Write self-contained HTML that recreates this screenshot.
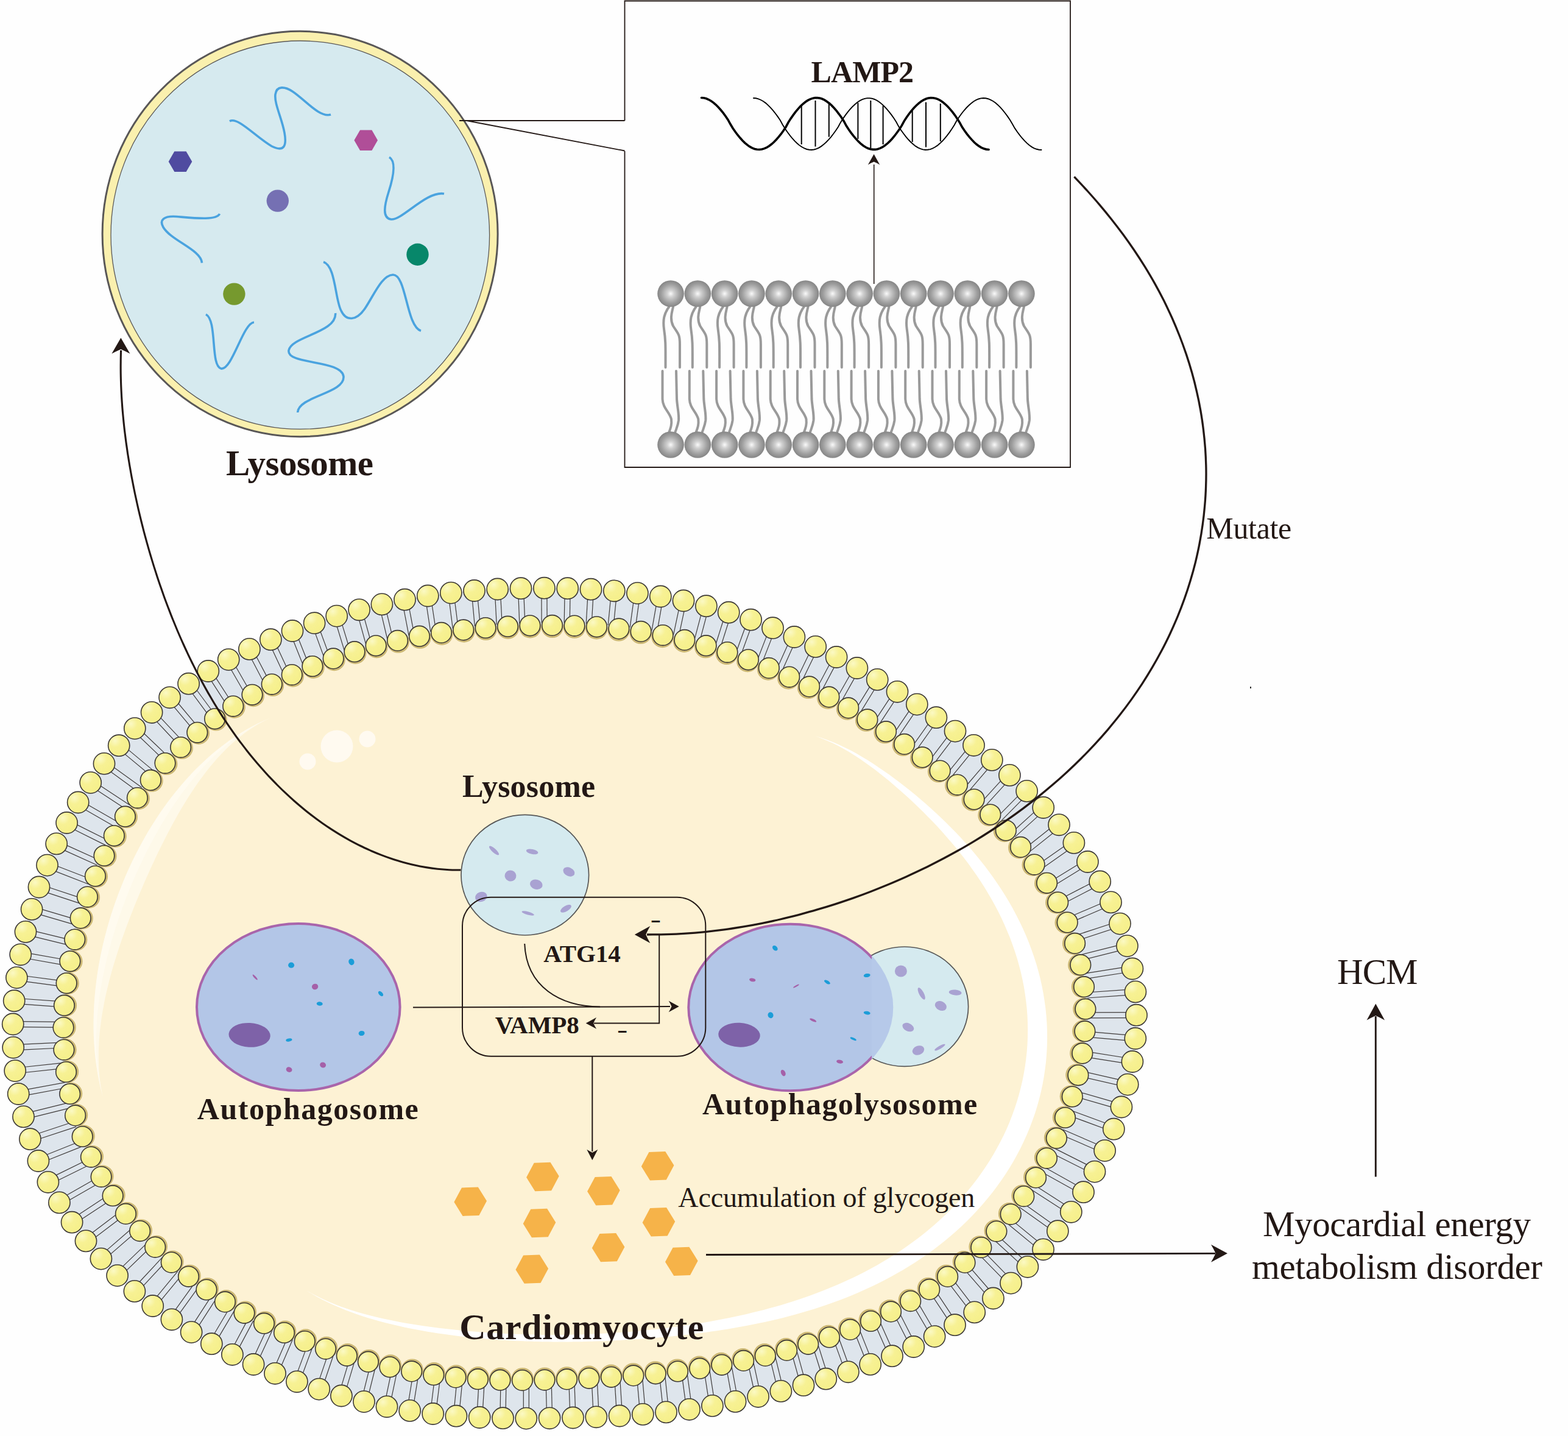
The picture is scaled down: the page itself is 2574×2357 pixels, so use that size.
<!DOCTYPE html>
<html lang="en"><head><meta charset="utf-8"><title>LAMP2 mutation and HCM</title>
<style>html,body{margin:0;padding:0;background:#fefefe}body{width:2574px;height:2357px;overflow:hidden}svg{display:block}</style></head>
<body>
<svg width="2574" height="2357" viewBox="0 0 2574 2357" font-family="'Liberation Serif', serif" fill="#231815">
<defs>
<radialGradient id="gs" cx="50%" cy="50%" r="50%">
<stop offset="0" stop-color="#fafafa"/><stop offset="0.25" stop-color="#d2d2d2"/><stop offset="0.7" stop-color="#a0a0a0"/><stop offset="1" stop-color="#858585"/>
</radialGradient>
<radialGradient id="gb" cx="32%" cy="28%" r="60%">
<stop offset="0" stop-color="#fbf9c4"/><stop offset="0.5" stop-color="#f7f194"/><stop offset="1" stop-color="#f6f08d"/>
</radialGradient>
<linearGradient id="lc" x1="0" y1="0" x2="1" y2="0">
<stop offset="0" stop-color="#fff" stop-opacity="0.95"/><stop offset="1" stop-color="#fff" stop-opacity="0.35"/>
</linearGradient>
<clipPath id="cl1"><path d="M1431,1400 H1700 V1900 H1431 Z"/></clipPath>
<clipPath id="cl2"><path d="M1000,1400 H1431 V1900 H1000 Z"/></clipPath>
</defs>
<rect width="2574" height="2357" fill="#fefefe"/>
<g id="cell">
<path d="M1865.3,1650.0L1865.5,1658.1L1865.5,1666.2L1865.4,1674.4L1865.2,1682.5L1864.8,1690.6L1864.3,1698.7L1863.6,1706.8L1862.8,1714.9L1861.8,1722.9L1860.7,1731.0L1859.5,1739.0L1858.1,1747.0L1856.7,1755.0L1855.1,1763.0L1853.3,1770.9L1851.5,1778.8L1849.5,1786.7L1847.5,1794.5L1845.3,1802.3L1843.0,1810.1L1840.6,1817.8L1838.1,1825.5L1835.5,1833.2L1832.9,1840.8L1830.1,1848.4L1827.2,1856.0L1824.2,1863.5L1821.2,1871.0L1818.1,1878.4L1814.8,1885.8L1811.5,1893.1L1808.2,1900.4L1804.7,1907.6L1801.2,1914.8L1797.6,1922.0L1793.9,1929.1L1790.1,1936.1L1786.3,1943.1L1782.4,1950.1L1778.4,1957.0L1774.4,1963.8L1770.2,1970.6L1766.0,1977.4L1761.8,1984.0L1757.4,1990.7L1753.0,1997.2L1748.6,2003.7L1744.0,2010.2L1739.4,2016.6L1734.7,2022.9L1729.9,2029.2L1725.1,2035.4L1720.2,2041.5L1715.2,2047.5L1710.2,2053.5L1705.1,2059.5L1699.9,2065.3L1694.6,2071.1L1689.3,2076.8L1683.9,2082.4L1678.5,2087.9L1672.9,2093.4L1667.4,2098.8L1661.7,2104.1L1656.0,2109.3L1650.2,2114.4L1644.3,2119.5L1638.4,2124.5L1632.4,2129.3L1626.4,2134.1L1620.3,2138.8L1614.2,2143.5L1608.0,2148.0L1601.7,2152.4L1595.5,2156.8L1589.1,2161.0L1582.7,2165.2L1576.3,2169.3L1569.8,2173.3L1563.3,2177.2L1556.8,2181.1L1550.2,2184.8L1543.6,2188.5L1537.0,2192.0L1530.3,2195.5L1523.7,2198.9L1517.0,2202.3L1510.3,2205.5L1503.5,2208.7L1496.8,2211.8L1490.1,2214.8L1483.3,2217.8L1476.6,2220.7L1469.8,2223.5L1463.0,2226.3L1456.3,2229.0L1449.5,2231.6L1442.8,2234.2L1436.1,2236.7L1429.3,2239.1L1422.6,2241.5L1415.9,2243.9L1409.2,2246.2L1402.6,2248.4L1395.9,2250.6L1389.2,2252.8L1382.6,2254.9L1376.0,2257.0L1369.4,2259.0L1362.9,2261.0L1356.3,2263.0L1349.8,2264.9L1343.3,2266.8L1336.8,2268.7L1330.3,2270.5L1323.9,2272.3L1317.4,2274.1L1311.0,2275.8L1304.6,2277.5L1298.3,2279.2L1291.9,2280.8L1285.6,2282.5L1279.3,2284.0L1273.0,2285.6L1266.7,2287.1L1260.4,2288.6L1254.2,2290.1L1247.9,2291.6L1241.7,2293.0L1235.5,2294.4L1229.3,2295.7L1223.1,2297.1L1216.9,2298.4L1210.8,2299.6L1204.6,2300.9L1198.5,2302.1L1192.3,2303.3L1186.2,2304.4L1180.1,2305.5L1174.0,2306.6L1167.9,2307.7L1161.8,2308.7L1155.7,2309.7L1149.6,2310.6L1143.6,2311.5L1137.5,2312.4L1131.5,2313.3L1125.4,2314.1L1119.4,2314.9L1113.4,2315.6L1107.3,2316.4L1101.3,2317.1L1095.3,2317.7L1089.3,2318.4L1083.3,2319.0L1077.3,2319.6L1071.3,2320.1L1065.4,2320.6L1059.4,2321.1L1053.4,2321.6L1047.5,2322.0L1041.5,2322.5L1035.6,2322.9L1029.6,2323.3L1023.7,2323.6L1017.8,2324.0L1011.8,2324.3L1005.9,2324.6L1000.0,2324.9L994.1,2325.1L988.2,2325.4L982.2,2325.6L976.3,2325.9L970.4,2326.1L964.5,2326.3L958.6,2326.5L952.7,2326.7L946.8,2326.8L940.9,2327.0L935.0,2327.1L929.1,2327.3L923.2,2327.4L917.3,2327.5L911.3,2327.6L905.4,2327.7L899.5,2327.8L893.5,2327.9L887.6,2327.9L881.6,2328.0L875.7,2328.0L869.7,2328.0L863.7,2328.1L857.7,2328.0L851.7,2328.0L845.7,2328.0L839.7,2327.9L833.7,2327.9L827.7,2327.8L821.6,2327.6L815.5,2327.5L809.5,2327.3L803.4,2327.1L797.3,2326.9L791.2,2326.7L785.0,2326.4L778.9,2326.1L772.8,2325.8L766.6,2325.4L760.4,2325.0L754.2,2324.6L748.0,2324.1L741.8,2323.6L735.6,2323.1L729.4,2322.5L723.2,2321.9L716.9,2321.2L710.6,2320.5L704.4,2319.8L698.1,2319.0L691.8,2318.2L685.5,2317.3L679.2,2316.4L672.9,2315.4L666.6,2314.4L660.2,2313.4L653.9,2312.3L647.5,2311.1L641.2,2310.0L634.8,2308.7L628.4,2307.4L622.0,2306.1L615.7,2304.7L609.3,2303.3L602.9,2301.9L596.5,2300.3L590.0,2298.8L583.6,2297.2L577.2,2295.5L570.7,2293.8L564.3,2292.1L557.8,2290.3L551.4,2288.5L544.9,2286.6L538.4,2284.6L532.0,2282.7L525.5,2280.6L519.0,2278.6L512.5,2276.4L506.0,2274.3L499.4,2272.0L492.9,2269.8L486.4,2267.5L479.8,2265.1L473.3,2262.7L466.8,2260.2L460.2,2257.7L453.6,2255.1L447.1,2252.5L440.5,2249.9L433.9,2247.1L427.4,2244.4L420.8,2241.5L414.2,2238.6L407.7,2235.7L401.1,2232.7L394.5,2229.6L387.9,2226.5L381.4,2223.3L374.8,2220.0L368.3,2216.7L361.7,2213.4L355.2,2209.9L348.7,2206.4L342.2,2202.8L335.7,2199.2L329.2,2195.5L322.7,2191.7L316.3,2187.9L309.8,2183.9L303.4,2180.0L297.0,2175.9L290.7,2171.8L284.4,2167.5L278.1,2163.3L271.8,2158.9L265.6,2154.5L259.4,2149.9L253.2,2145.3L247.1,2140.7L241.0,2135.9L235.0,2131.1L229.0,2126.2L223.1,2121.2L217.2,2116.2L211.3,2111.0L205.6,2105.8L199.8,2100.5L194.2,2095.1L188.6,2089.7L183.0,2084.2L177.6,2078.5L172.1,2072.9L166.8,2067.1L161.5,2061.3L156.3,2055.4L151.2,2049.4L146.2,2043.3L141.2,2037.2L136.3,2031.0L131.5,2024.7L126.8,2018.3L122.1,2011.9L117.6,2005.4L113.1,1998.9L108.7,1992.3L104.5,1985.6L100.3,1978.8L96.2,1972.0L92.2,1965.1L88.3,1958.2L84.5,1951.2L80.8,1944.1L77.2,1937.0L73.7,1929.8L70.3,1922.6L67.1,1915.4L63.9,1908.0L60.8,1900.7L57.9,1893.2L55.1,1885.8L52.3,1878.3L49.7,1870.7L47.2,1863.1L44.8,1855.5L42.6,1847.9L40.4,1840.2L38.3,1832.4L36.4,1824.7L34.6,1816.9L32.9,1809.1L31.3,1801.2L29.9,1793.4L28.5,1785.5L27.3,1777.6L26.1,1769.7L25.1,1761.7L24.2,1753.8L23.5,1745.8L22.8,1737.8L22.2,1729.9L21.8,1721.9L21.5,1713.9L21.2,1705.9L21.1,1697.9L21.1,1689.9L21.2,1681.9L21.4,1673.9L21.7,1665.9L22.1,1658.0L22.6,1650.0L23.2,1642.0L23.9,1634.1L24.8,1626.2L25.6,1618.2L26.6,1610.3L27.7,1602.5L28.9,1594.6L30.1,1586.7L31.5,1578.9L32.9,1571.1L34.4,1563.3L36.0,1555.5L37.7,1547.8L39.5,1540.0L41.3,1532.3L43.2,1524.7L45.2,1517.0L47.3,1509.4L49.4,1501.8L51.6,1494.2L53.9,1486.7L56.2,1479.2L58.6,1471.7L61.1,1464.3L63.7,1456.8L66.3,1449.4L69.0,1442.1L71.8,1434.8L74.6,1427.5L77.5,1420.2L80.4,1413.0L83.4,1405.8L86.5,1398.7L89.7,1391.6L92.9,1384.5L96.2,1377.5L99.5,1370.5L103.0,1363.5L106.5,1356.6L110.0,1349.7L113.6,1342.9L117.3,1336.1L121.1,1329.4L124.9,1322.7L128.8,1316.1L132.8,1309.5L136.8,1302.9L140.9,1296.4L145.1,1290.0L149.3,1283.6L153.6,1277.3L158.0,1271.0L162.5,1264.8L167.0,1258.7L171.6,1252.6L176.3,1246.6L181.0,1240.6L185.8,1234.7L190.7,1228.9L195.7,1223.2L200.7,1217.5L205.8,1211.8L210.9,1206.3L216.2,1200.8L221.4,1195.4L226.8,1190.1L232.2,1184.8L237.7,1179.6L243.2,1174.5L248.8,1169.5L254.5,1164.6L260.2,1159.7L265.9,1154.9L271.7,1150.2L277.6,1145.6L283.5,1141.0L289.5,1136.5L295.5,1132.1L301.5,1127.8L307.6,1123.5L313.7,1119.4L319.9,1115.3L326.1,1111.3L332.3,1107.3L338.6,1103.5L344.8,1099.7L351.2,1096.0L357.5,1092.3L363.9,1088.7L370.2,1085.2L376.6,1081.8L383.0,1078.4L389.5,1075.1L395.9,1071.9L402.4,1068.7L408.8,1065.6L415.3,1062.6L421.8,1059.6L428.3,1056.7L434.8,1053.9L441.3,1051.1L447.8,1048.3L454.3,1045.6L460.8,1043.0L467.3,1040.4L473.8,1037.9L480.3,1035.4L486.7,1033.0L493.2,1030.7L499.7,1028.3L506.2,1026.1L512.7,1023.9L519.1,1021.7L525.6,1019.6L532.0,1017.5L538.5,1015.4L544.9,1013.5L551.4,1011.5L557.8,1009.6L564.2,1007.8L570.6,1006.0L577.0,1004.2L583.4,1002.5L589.8,1000.8L596.2,999.2L602.6,997.6L608.9,996.0L615.3,994.5L621.6,993.0L628.0,991.6L634.3,990.2L640.7,988.9L647.0,987.6L653.3,986.4L659.6,985.1L665.9,984.0L672.2,982.8L678.5,981.7L684.8,980.7L691.0,979.7L697.3,978.7L703.5,977.8L709.8,976.9L716.0,976.0L722.2,975.2L728.5,974.4L734.7,973.7L740.9,973.0L747.1,972.3L753.2,971.7L759.4,971.1L765.6,970.5L771.7,970.0L777.9,969.5L784.0,969.0L790.2,968.6L796.3,968.2L802.4,967.8L808.5,967.4L814.6,967.1L820.7,966.8L826.8,966.6L832.8,966.3L838.9,966.1L844.9,965.9L851.0,965.7L857.0,965.6L863.1,965.5L869.1,965.4L875.1,965.3L881.1,965.3L887.1,965.2L893.1,965.2L899.1,965.2L905.1,965.3L911.1,965.3L917.1,965.4L923.1,965.5L929.0,965.7L935.0,965.8L941.0,966.0L946.9,966.2L952.9,966.4L958.9,966.7L964.8,966.9L970.8,967.2L976.7,967.6L982.7,967.9L988.7,968.3L994.6,968.7L1000.6,969.1L1006.5,969.6L1012.5,970.1L1018.4,970.6L1024.4,971.2L1030.3,971.8L1036.3,972.5L1042.2,973.1L1048.2,973.8L1054.1,974.6L1060.0,975.4L1066.0,976.2L1071.9,977.1L1077.8,978.0L1083.8,978.9L1089.7,979.9L1095.6,980.9L1101.6,982.0L1107.5,983.1L1113.4,984.2L1119.3,985.4L1125.2,986.7L1131.1,988.0L1137.0,989.3L1142.9,990.7L1148.8,992.1L1154.7,993.5L1160.5,995.0L1166.4,996.6L1172.2,998.2L1178.1,999.8L1183.9,1001.5L1189.8,1003.2L1195.6,1005.0L1201.4,1006.8L1207.2,1008.6L1213.1,1010.5L1218.9,1012.4L1224.7,1014.4L1230.4,1016.4L1236.2,1018.5L1242.0,1020.6L1247.8,1022.7L1253.5,1024.9L1259.3,1027.1L1265.0,1029.3L1270.8,1031.6L1276.5,1033.9L1282.2,1036.2L1288.0,1038.6L1293.7,1041.1L1299.4,1043.5L1305.1,1046.0L1310.8,1048.5L1316.5,1051.1L1322.2,1053.7L1327.9,1056.3L1333.6,1059.0L1339.3,1061.7L1345.0,1064.4L1350.7,1067.2L1356.4,1070.0L1362.1,1072.8L1367.8,1075.7L1373.4,1078.6L1379.1,1081.6L1384.8,1084.5L1390.5,1087.5L1396.1,1090.6L1401.8,1093.7L1407.5,1096.8L1413.2,1099.9L1418.8,1103.1L1424.5,1106.3L1430.2,1109.6L1435.9,1112.9L1441.6,1116.2L1447.2,1119.6L1452.9,1123.0L1458.6,1126.4L1464.3,1129.9L1470.0,1133.4L1475.6,1137.0L1481.3,1140.5L1487.0,1144.2L1492.7,1147.8L1498.4,1151.6L1504.1,1155.3L1509.8,1159.1L1515.5,1162.9L1521.2,1166.8L1526.9,1170.7L1532.6,1174.7L1538.3,1178.6L1544.0,1182.7L1549.7,1186.8L1555.5,1190.9L1561.2,1195.1L1566.9,1199.3L1572.6,1203.5L1578.4,1207.8L1584.1,1212.2L1589.8,1216.6L1595.5,1221.0L1601.3,1225.5L1607.0,1230.1L1612.7,1234.7L1618.5,1239.3L1624.2,1244.0L1629.9,1248.8L1635.7,1253.6L1641.4,1258.5L1647.1,1263.4L1652.8,1268.4L1658.5,1273.4L1664.1,1278.5L1669.8,1283.6L1675.4,1288.9L1681.1,1294.1L1686.7,1299.5L1692.3,1304.9L1697.8,1310.4L1703.4,1315.9L1708.9,1321.5L1714.3,1327.2L1719.7,1332.9L1725.1,1338.8L1730.5,1344.6L1735.8,1350.6L1741.0,1356.6L1746.2,1362.7L1751.3,1368.9L1756.4,1375.2L1761.4,1381.5L1766.3,1387.9L1771.2,1394.4L1775.9,1400.9L1780.6,1407.5L1785.2,1414.2L1789.7,1421.0L1794.1,1427.8L1798.4,1434.7L1802.6,1441.7L1806.7,1448.7L1810.7,1455.9L1814.6,1463.0L1818.3,1470.3L1822.0,1477.6L1825.5,1485.0L1828.8,1492.4L1832.1,1499.9L1835.2,1507.4L1838.1,1515.0L1840.9,1522.7L1843.6,1530.4L1846.1,1538.1L1848.5,1545.9L1850.7,1553.8L1852.8,1561.6L1854.7,1569.5L1856.5,1577.5L1858.1,1585.5L1859.5,1593.5L1860.8,1601.5L1862.0,1609.5L1862.9,1617.6L1863.8,1625.7L1864.4,1633.8L1864.9,1641.9Z" fill="#dee5ec"/>
<path d="M1781.7,1650.0L1781.9,1657.4L1781.9,1664.8L1781.9,1672.2L1781.6,1679.6L1781.3,1686.9L1780.8,1694.3L1780.2,1701.7L1779.4,1709.0L1778.6,1716.4L1777.6,1723.7L1776.5,1731.0L1775.3,1738.3L1774.0,1745.6L1772.5,1752.8L1771.0,1760.1L1769.3,1767.3L1767.5,1774.4L1765.7,1781.6L1763.7,1788.7L1761.6,1795.8L1759.5,1802.8L1757.2,1809.8L1754.9,1816.8L1752.4,1823.8L1749.9,1830.7L1747.3,1837.5L1744.6,1844.4L1741.8,1851.2L1739.0,1857.9L1736.1,1864.6L1733.0,1871.3L1729.9,1877.9L1726.8,1884.5L1723.5,1891.1L1720.2,1897.6L1716.8,1904.0L1713.4,1910.4L1709.9,1916.8L1706.3,1923.1L1702.6,1929.4L1698.9,1935.6L1695.1,1941.8L1691.2,1947.9L1687.3,1953.9L1683.3,1959.9L1679.2,1965.9L1675.1,1971.8L1670.9,1977.6L1666.6,1983.4L1662.3,1989.1L1657.9,1994.8L1653.4,2000.4L1648.9,2005.9L1644.3,2011.4L1639.7,2016.8L1635.0,2022.2L1630.2,2027.5L1625.4,2032.7L1620.5,2037.8L1615.5,2042.9L1610.5,2047.9L1605.4,2052.8L1600.3,2057.7L1595.1,2062.5L1589.9,2067.2L1584.6,2071.9L1579.3,2076.4L1573.9,2080.9L1568.4,2085.4L1563.0,2089.7L1557.4,2094.0L1551.9,2098.2L1546.2,2102.3L1540.6,2106.3L1534.9,2110.3L1529.1,2114.2L1523.4,2118.0L1517.6,2121.7L1511.7,2125.4L1505.8,2129.0L1499.9,2132.5L1494.0,2136.0L1488.1,2139.3L1482.1,2142.6L1476.1,2145.8L1470.1,2149.0L1464.1,2152.1L1458.1,2155.1L1452.0,2158.1L1446.0,2161.0L1439.9,2163.8L1433.8,2166.5L1427.7,2169.2L1421.7,2171.9L1415.6,2174.4L1409.5,2177.0L1403.4,2179.4L1397.3,2181.8L1391.2,2184.2L1385.2,2186.5L1379.1,2188.7L1373.0,2190.9L1367.0,2193.1L1360.9,2195.2L1354.9,2197.2L1348.9,2199.2L1342.9,2201.2L1336.9,2203.1L1330.9,2205.0L1324.9,2206.8L1318.9,2208.6L1313.0,2210.4L1307.1,2212.1L1301.1,2213.8L1295.2,2215.4L1289.3,2217.0L1283.4,2218.6L1277.6,2220.1L1271.7,2221.6L1265.9,2223.1L1260.1,2224.5L1254.2,2225.9L1248.4,2227.3L1242.7,2228.6L1236.9,2229.9L1231.1,2231.2L1225.4,2232.4L1219.7,2233.6L1213.9,2234.8L1208.2,2235.9L1202.5,2237.0L1196.8,2238.1L1191.2,2239.2L1185.5,2240.2L1179.9,2241.2L1174.2,2242.1L1168.6,2243.1L1163.0,2244.0L1157.4,2244.9L1151.8,2245.7L1146.2,2246.5L1140.7,2247.3L1135.1,2248.1L1129.6,2248.8L1124.0,2249.5L1118.5,2250.2L1113.0,2250.9L1107.5,2251.5L1102.0,2252.2L1096.5,2252.8L1091.0,2253.3L1085.6,2253.9L1080.1,2254.4L1074.7,2255.0L1069.2,2255.5L1063.8,2255.9L1058.4,2256.4L1053.0,2256.8L1047.6,2257.3L1042.2,2257.7L1036.8,2258.1L1031.4,2258.5L1026.0,2258.9L1020.6,2259.2L1015.3,2259.6L1009.9,2259.9L1004.5,2260.3L999.2,2260.6L993.8,2260.9L988.5,2261.2L983.1,2261.5L977.8,2261.8L972.4,2262.0L967.1,2262.3L961.7,2262.6L956.4,2262.8L951.1,2263.1L945.7,2263.3L940.4,2263.5L935.0,2263.8L929.6,2264.0L924.3,2264.2L918.9,2264.3L913.5,2264.5L908.2,2264.7L902.8,2264.8L897.4,2265.0L892.0,2265.1L886.6,2265.2L881.2,2265.3L875.7,2265.4L870.3,2265.5L864.9,2265.5L859.4,2265.6L854.0,2265.6L848.5,2265.6L843.0,2265.5L837.5,2265.5L832.0,2265.4L826.5,2265.3L821.0,2265.2L815.4,2265.0L809.9,2264.9L804.3,2264.7L798.8,2264.4L793.2,2264.2L787.6,2263.9L782.0,2263.6L776.4,2263.2L770.8,2262.8L765.2,2262.4L759.5,2261.9L753.9,2261.4L748.2,2260.9L742.6,2260.3L736.9,2259.7L731.2,2259.1L725.5,2258.4L719.8,2257.7L714.1,2257.0L708.4,2256.2L702.6,2255.4L696.9,2254.5L691.1,2253.6L685.4,2252.6L679.6,2251.6L673.8,2250.6L668.1,2249.5L662.3,2248.4L656.5,2247.3L650.7,2246.1L644.9,2244.9L639.0,2243.6L633.2,2242.3L627.4,2240.9L621.5,2239.5L615.7,2238.1L609.8,2236.6L604.0,2235.1L598.1,2233.6L592.2,2231.9L586.3,2230.3L580.4,2228.6L574.5,2226.9L568.6,2225.1L562.7,2223.3L556.8,2221.4L550.8,2219.5L544.9,2217.6L539.0,2215.6L533.0,2213.5L527.1,2211.5L521.1,2209.3L515.2,2207.2L509.2,2204.9L503.2,2202.6L497.3,2200.3L491.3,2197.9L485.3,2195.5L479.3,2193.0L473.4,2190.5L467.4,2187.9L461.4,2185.3L455.4,2182.6L449.5,2179.9L443.5,2177.1L437.5,2174.2L431.6,2171.3L425.6,2168.3L419.7,2165.3L413.8,2162.2L407.8,2159.1L401.9,2155.9L396.0,2152.6L390.1,2149.3L384.3,2145.9L378.4,2142.4L372.6,2138.9L366.8,2135.3L361.0,2131.7L355.2,2127.9L349.5,2124.2L343.7,2120.3L338.0,2116.4L332.4,2112.4L326.7,2108.4L321.1,2104.2L315.6,2100.1L310.0,2095.8L304.5,2091.5L299.1,2087.1L293.6,2082.6L288.3,2078.1L282.9,2073.5L277.6,2068.8L272.4,2064.1L267.2,2059.2L262.0,2054.4L256.9,2049.4L251.9,2044.4L246.9,2039.3L242.0,2034.1L237.1,2028.9L232.3,2023.6L227.6,2018.3L222.9,2012.8L218.3,2007.3L213.7,2001.8L209.3,1996.2L204.9,1990.5L200.6,1984.7L196.3,1978.9L192.1,1973.0L188.1,1967.1L184.0,1961.1L180.1,1955.0L176.3,1948.9L172.5,1942.7L168.9,1936.4L165.3,1930.2L161.8,1923.8L158.4,1917.4L155.1,1910.9L151.9,1904.4L148.8,1897.9L145.8,1891.3L142.9,1884.6L140.1,1877.9L137.4,1871.2L134.8,1864.4L132.3,1857.6L129.9,1850.7L127.6,1843.8L125.4,1836.9L123.3,1829.9L121.3,1822.9L119.5,1815.9L117.7,1808.9L116.1,1801.8L114.5,1794.7L113.1,1787.5L111.7,1780.4L110.5,1773.2L109.4,1766.0L108.4,1758.8L107.5,1751.6L106.7,1744.4L106.0,1737.1L105.4,1729.9L104.9,1722.6L104.5,1715.4L104.2,1708.1L104.0,1700.8L104.0,1693.6L104.0,1686.3L104.1,1679.0L104.3,1671.8L104.6,1664.5L104.9,1657.2L105.4,1650.0L106.0,1642.8L106.6,1635.5L107.4,1628.3L108.2,1621.1L109.1,1613.9L110.1,1606.8L111.2,1599.6L112.3,1592.5L113.5,1585.3L114.8,1578.2L116.2,1571.2L117.7,1564.1L119.2,1557.0L120.8,1550.0L122.4,1543.0L124.2,1536.0L126.0,1529.1L127.8,1522.2L129.7,1515.2L131.7,1508.4L133.8,1501.5L135.9,1494.7L138.1,1487.9L140.3,1481.1L142.6,1474.3L145.0,1467.6L147.4,1460.9L149.9,1454.3L152.5,1447.6L155.1,1441.0L157.8,1434.5L160.5,1427.9L163.3,1421.4L166.2,1414.9L169.1,1408.5L172.1,1402.1L175.1,1395.7L178.2,1389.4L181.4,1383.1L184.6,1376.9L187.9,1370.7L191.3,1364.5L194.7,1358.4L198.2,1352.3L201.7,1346.3L205.3,1340.3L209.0,1334.3L212.8,1328.4L216.6,1322.6L220.5,1316.8L224.4,1311.1L228.4,1305.4L232.5,1299.7L236.6,1294.1L240.8,1288.6L245.1,1283.2L249.4,1277.7L253.8,1272.4L258.2,1267.1L262.8,1261.9L267.3,1256.7L272.0,1251.6L276.7,1246.6L281.4,1241.6L286.2,1236.7L291.1,1231.9L296.0,1227.1L301.0,1222.4L306.1,1217.7L311.1,1213.2L316.3,1208.7L321.5,1204.2L326.7,1199.9L332.0,1195.6L337.3,1191.4L342.7,1187.2L348.1,1183.1L353.5,1179.1L359.0,1175.2L364.5,1171.3L370.1,1167.5L375.6,1163.8L381.2,1160.1L386.9,1156.5L392.6,1152.9L398.2,1149.5L404.0,1146.1L409.7,1142.7L415.4,1139.4L421.2,1136.2L427.0,1133.1L432.8,1130.0L438.6,1126.9L444.5,1124.0L450.3,1121.1L456.2,1118.2L462.0,1115.4L467.9,1112.7L473.8,1110.0L479.7,1107.4L485.6,1104.8L491.5,1102.3L497.3,1099.8L503.2,1097.4L509.1,1095.0L515.0,1092.7L520.9,1090.4L526.8,1088.2L532.7,1086.0L538.6,1083.9L544.5,1081.8L550.4,1079.8L556.3,1077.8L562.2,1075.9L568.0,1074.0L573.9,1072.1L579.8,1070.3L585.6,1068.6L591.5,1066.9L597.4,1065.2L603.2,1063.6L609.0,1062.0L614.9,1060.4L620.7,1058.9L626.5,1057.5L632.4,1056.0L638.2,1054.6L644.0,1053.3L649.8,1052.0L655.6,1050.7L661.3,1049.5L667.1,1048.3L672.9,1047.2L678.6,1046.0L684.4,1045.0L690.1,1043.9L695.9,1042.9L701.6,1042.0L707.3,1041.0L713.0,1040.1L718.7,1039.3L724.4,1038.4L730.1,1037.6L735.8,1036.9L741.5,1036.2L747.1,1035.5L752.8,1034.8L758.4,1034.1L764.0,1033.5L769.7,1033.0L775.3,1032.4L780.9,1031.9L786.5,1031.4L792.1,1030.9L797.7,1030.5L803.2,1030.0L808.8,1029.7L814.3,1029.3L819.9,1028.9L825.4,1028.6L831.0,1028.3L836.5,1028.0L842.0,1027.8L847.5,1027.6L853.0,1027.3L858.5,1027.2L864.0,1027.0L869.5,1026.8L875.0,1026.7L880.5,1026.6L885.9,1026.5L891.4,1026.5L896.9,1026.4L902.3,1026.4L907.8,1026.4L913.2,1026.5L918.7,1026.5L924.1,1026.6L929.6,1026.7L935.0,1026.8L940.4,1027.0L945.9,1027.2L951.3,1027.4L956.7,1027.6L962.2,1027.8L967.6,1028.1L973.0,1028.4L978.4,1028.7L983.9,1029.1L989.3,1029.5L994.7,1029.9L1000.1,1030.4L1005.5,1030.9L1011.0,1031.4L1016.4,1031.9L1021.8,1032.5L1027.2,1033.1L1032.6,1033.8L1038.0,1034.5L1043.4,1035.2L1048.8,1036.0L1054.2,1036.8L1059.6,1037.6L1065.0,1038.4L1070.4,1039.3L1075.8,1040.3L1081.1,1041.3L1086.5,1042.3L1091.9,1043.3L1097.3,1044.4L1102.6,1045.5L1108.0,1046.7L1113.3,1047.9L1118.7,1049.1L1124.0,1050.4L1129.4,1051.7L1134.7,1053.1L1140.1,1054.5L1145.4,1055.9L1150.7,1057.3L1156.0,1058.8L1161.3,1060.4L1166.6,1061.9L1171.9,1063.5L1177.2,1065.2L1182.5,1066.8L1187.8,1068.6L1193.1,1070.3L1198.4,1072.1L1203.7,1073.9L1208.9,1075.7L1214.2,1077.6L1219.4,1079.5L1224.7,1081.4L1229.9,1083.4L1235.2,1085.4L1240.4,1087.5L1245.7,1089.5L1250.9,1091.7L1256.1,1093.8L1261.4,1096.0L1266.6,1098.2L1271.8,1100.4L1277.0,1102.7L1282.2,1105.0L1287.4,1107.3L1292.6,1109.7L1297.8,1112.1L1303.0,1114.5L1308.2,1117.0L1313.4,1119.5L1318.6,1122.0L1323.8,1124.6L1329.0,1127.2L1334.2,1129.8L1339.4,1132.4L1344.5,1135.1L1349.7,1137.9L1354.9,1140.6L1360.1,1143.4L1365.2,1146.3L1370.4,1149.1L1375.6,1152.0L1380.7,1155.0L1385.9,1157.9L1391.1,1160.9L1396.2,1164.0L1401.4,1167.0L1406.5,1170.2L1411.7,1173.3L1416.9,1176.5L1422.0,1179.7L1427.2,1182.9L1432.4,1186.2L1437.5,1189.5L1442.7,1192.9L1447.8,1196.3L1453.0,1199.7L1458.2,1203.2L1463.4,1206.7L1468.5,1210.2L1473.7,1213.8L1478.9,1217.4L1484.1,1221.0L1489.3,1224.7L1494.5,1228.4L1499.7,1232.2L1504.9,1236.0L1510.1,1239.8L1515.3,1243.7L1520.5,1247.6L1525.7,1251.6L1530.9,1255.6L1536.1,1259.6L1541.4,1263.7L1546.6,1267.8L1551.8,1272.0L1557.1,1276.2L1562.3,1280.5L1567.5,1284.8L1572.7,1289.2L1578.0,1293.6L1583.2,1298.1L1588.4,1302.6L1593.6,1307.2L1598.8,1311.8L1604.0,1316.5L1609.1,1321.2L1614.3,1326.0L1619.4,1330.9L1624.5,1335.8L1629.6,1340.7L1634.7,1345.8L1639.7,1350.9L1644.7,1356.0L1649.7,1361.3L1654.6,1366.5L1659.5,1371.9L1664.3,1377.3L1669.1,1382.8L1673.9,1388.4L1678.5,1394.0L1683.2,1399.7L1687.7,1405.4L1692.2,1411.2L1696.6,1417.1L1701.0,1423.1L1705.3,1429.1L1709.4,1435.2L1713.5,1441.4L1717.5,1447.6L1721.5,1453.9L1725.3,1460.3L1729.0,1466.7L1732.6,1473.2L1736.1,1479.7L1739.5,1486.3L1742.8,1493.0L1745.9,1499.7L1749.0,1506.5L1751.9,1513.3L1754.7,1520.2L1757.4,1527.1L1759.9,1534.1L1762.3,1541.1L1764.6,1548.1L1766.7,1555.2L1768.7,1562.4L1770.6,1569.5L1772.3,1576.7L1773.8,1584.0L1775.3,1591.2L1776.6,1598.5L1777.7,1605.8L1778.8,1613.2L1779.6,1620.5L1780.4,1627.9L1781.0,1635.2L1781.4,1642.6Z" fill="#fdf2d4"/>
<path d="M447.0,1177.0L438.6,1180.5L430.3,1184.2L422.1,1188.1L414.1,1192.3L406.2,1196.6L398.4,1201.2L390.7,1206.0L383.2,1210.9L375.8,1216.1L368.5,1221.4L361.3,1226.9L354.3,1232.5L347.4,1238.3L340.6,1244.3L333.9,1250.4L327.3,1256.7L320.9,1263.1L314.6,1269.6L308.4,1276.2L302.4,1283.0L296.4,1289.9L290.6,1296.9L284.9,1304.1L279.3,1311.3L273.8,1318.6L268.5,1326.1L263.2,1333.6L258.1,1341.2L253.1,1348.9L248.2,1356.7L243.4,1364.6L238.8,1372.6L234.2,1380.7L229.8,1388.8L225.5,1397.0L221.3,1405.3L217.2,1413.6L213.2,1422.1L209.3,1430.5L205.6,1439.1L202.0,1447.7L198.5,1456.4L195.1,1465.1L191.8,1473.9L188.6,1482.8L185.6,1491.7L182.7,1500.6L179.9,1509.6L177.2,1518.7L174.7,1527.8L172.3,1536.9L170.0,1546.1L167.9,1555.3L165.9,1564.6L164.0,1573.9L162.3,1583.3L160.7,1592.6L159.3,1602.1L158.0,1611.5L156.9,1621.0L155.9,1630.4L155.1,1639.9L154.5,1649.5L154.0,1659.0L153.7,1668.5L153.5,1678.1L153.5,1687.6L153.7,1697.2L154.1,1706.8L154.7,1716.3L155.5,1725.8L156.4,1735.3L157.6,1744.8L159.0,1754.3L160.5,1763.7L162.3,1773.1L164.3,1782.5L166.6,1791.8L169.0,1801.0 L169.0,1801.0L167.1,1791.7L165.4,1782.3L164.1,1772.8L163.1,1763.3L162.4,1753.8L162.0,1744.3L161.8,1734.7L161.9,1725.2L162.3,1715.7L162.8,1706.1L163.6,1696.6L164.6,1687.1L165.8,1677.7L167.1,1668.2L168.7,1658.8L170.4,1649.5L172.2,1640.2L174.2,1630.9L176.4,1621.7L178.6,1612.5L181.0,1603.4L183.5,1594.3L186.1,1585.3L188.8,1576.4L191.6,1567.5L194.5,1558.6L197.4,1549.8L200.4,1541.1L203.5,1532.4L206.6,1523.8L209.8,1515.2L213.1,1506.6L216.4,1498.2L219.7,1489.7L223.1,1481.3L226.6,1473.0L230.0,1464.7L233.6,1456.4L237.1,1448.2L240.7,1440.0L244.4,1431.9L248.0,1423.8L251.8,1415.7L255.5,1407.7L259.3,1399.7L263.2,1391.8L267.1,1383.9L271.1,1376.0L275.1,1368.2L279.2,1360.5L283.3,1352.7L287.6,1345.1L291.8,1337.4L296.2,1329.8L300.7,1322.3L305.2,1314.9L309.8,1307.5L314.6,1300.2L319.4,1292.9L324.3,1285.7L329.4,1278.7L334.6,1271.7L339.9,1264.8L345.3,1258.0L350.9,1251.4L356.6,1244.8L362.5,1238.4L368.6,1232.2L374.8,1226.1L381.1,1220.2L387.7,1214.5L394.4,1209.0L401.3,1203.6L408.4,1198.5L415.7,1193.7L423.2,1189.1L431.0,1184.8L438.9,1180.7L447.0,1177.0 Z" fill="#fffdf6" fill-opacity="0.62"/>
<path d="M447.0,1177.0L438.6,1180.5L430.3,1184.2L422.1,1188.1L414.1,1192.3L406.2,1196.6L398.4,1201.2L390.7,1206.0L383.2,1210.9L375.8,1216.1L368.5,1221.4L361.3,1226.9L354.3,1232.5L347.4,1238.3L340.6,1244.3L333.9,1250.4L327.3,1256.7L320.9,1263.1L314.6,1269.6L308.4,1276.2L302.4,1283.0L296.4,1289.9L290.6,1296.9L284.9,1304.1L279.3,1311.3L273.8,1318.6L268.5,1326.1L263.2,1333.6L258.1,1341.2L253.1,1348.9L248.2,1356.7L243.4,1364.6L238.8,1372.6L234.2,1380.7L229.8,1388.8L225.5,1397.0L221.3,1405.3L217.2,1413.6L213.2,1422.1L209.3,1430.5L205.6,1439.1L202.0,1447.7L198.5,1456.4L195.1,1465.1L191.8,1473.9L188.6,1482.8L185.6,1491.7L182.7,1500.6L179.9,1509.6L177.2,1518.7L174.7,1527.8L172.3,1536.9L170.0,1546.1L167.9,1555.3L165.9,1564.6L164.0,1573.9L162.3,1583.3L160.7,1592.6L159.3,1602.1L158.0,1611.5L156.9,1621.0L155.9,1630.4L155.1,1639.9L154.5,1649.5L154.0,1659.0L153.7,1668.5L153.5,1678.1L153.5,1687.6L153.7,1697.2L154.1,1706.8L154.7,1716.3L155.5,1725.8L156.4,1735.3L157.6,1744.8L159.0,1754.3L160.5,1763.7L162.3,1773.1L164.3,1782.5L166.6,1791.8L169.0,1801.0 L169.0,1801.0L166.8,1791.7L164.8,1782.4L163.2,1773.0L161.7,1763.5L160.6,1754.1L159.6,1744.6L158.9,1735.1L158.4,1725.5L158.2,1716.0L158.1,1706.5L158.2,1696.9L158.6,1687.4L159.1,1677.9L159.8,1668.4L160.7,1658.9L161.7,1649.5L162.9,1640.0L164.2,1630.6L165.7,1621.3L167.4,1612.0L169.1,1602.7L171.1,1593.4L173.1,1584.2L175.2,1575.0L177.5,1565.9L179.9,1556.8L182.4,1547.8L185.0,1538.8L187.7,1529.9L190.5,1521.0L193.4,1512.1L196.4,1503.3L199.4,1494.6L202.6,1485.9L205.9,1477.2L209.2,1468.7L212.6,1460.1L216.1,1451.6L219.7,1443.2L223.4,1434.8L227.2,1426.5L231.0,1418.2L234.9,1410.0L238.9,1401.8L243.0,1393.7L247.2,1385.6L251.4,1377.7L255.8,1369.7L260.2,1361.9L264.7,1354.1L269.4,1346.4L274.1,1338.7L278.9,1331.1L283.8,1323.6L288.8,1316.2L293.9,1308.9L299.1,1301.6L304.5,1294.5L309.9,1287.4L315.5,1280.4L321.1,1273.6L326.9,1266.9L332.9,1260.2L338.9,1253.8L345.1,1247.4L351.4,1241.2L357.9,1235.1L364.5,1229.2L371.2,1223.4L378.1,1217.9L385.1,1212.5L392.3,1207.2L399.7,1202.2L407.1,1197.4L414.8,1192.9L422.6,1188.5L430.6,1184.4L438.7,1180.6L447.0,1177.0 Z" fill="#fffdf6" fill-opacity="0.5"/>
<path d="M1337.9,1208.1L1348.1,1211.1L1358.0,1214.5L1367.8,1218.3L1377.5,1222.4L1386.9,1226.9L1396.3,1231.6L1405.5,1236.6L1414.6,1241.9L1423.7,1247.3L1432.6,1253.0L1441.5,1258.9L1450.3,1264.9L1459.1,1271.1L1467.8,1277.5L1476.5,1284.0L1485.2,1290.7L1493.8,1297.6L1502.4,1304.6L1510.9,1311.8L1519.4,1319.1L1527.8,1326.6L1536.2,1334.3L1544.5,1342.1L1552.8,1350.1L1561.0,1358.2L1569.2,1366.6L1577.2,1375.1L1585.1,1383.8L1593.0,1392.6L1600.7,1401.7L1608.3,1410.9L1615.7,1420.3L1623.0,1429.9L1630.1,1439.7L1637.0,1449.7L1643.7,1459.8L1650.2,1470.1L1656.5,1480.6L1662.6,1491.3L1668.4,1502.2L1674.0,1513.2L1679.2,1524.3L1684.2,1535.6L1688.9,1547.1L1693.3,1558.7L1697.4,1570.4L1701.2,1582.3L1704.6,1594.2L1707.7,1606.2L1710.4,1618.4L1712.7,1630.6L1714.7,1642.9L1716.4,1655.2L1717.6,1667.6L1718.5,1680.0L1719.0,1692.5L1719.1,1704.9L1718.8,1717.4L1718.1,1729.8L1717.1,1742.2L1715.6,1754.6L1713.8,1766.9L1711.6,1779.2L1709.0,1791.4L1706.0,1803.5L1702.7,1815.5L1699.0,1827.4L1694.9,1839.1L1690.5,1850.8L1685.7,1862.3L1680.6,1873.6L1675.2,1884.8L1669.4,1895.8L1663.3,1906.7L1657.0,1917.3L1650.3,1927.8L1643.3,1938.1L1636.1,1948.1L1628.6,1958.0L1620.8,1967.6L1612.9,1977.0L1604.6,1986.2L1596.2,1995.2L1587.6,2003.9L1578.7,2012.4L1569.7,2020.7L1560.5,2028.7L1551.2,2036.5L1541.7,2044.1L1532.1,2051.4L1522.3,2058.5L1512.4,2065.3L1502.5,2071.9L1492.4,2078.3L1482.3,2084.4L1472.0,2090.3L1461.8,2096.0L1451.4,2101.5L1441.1,2106.7L1430.7,2111.8L1420.2,2116.6L1409.8,2121.2L1399.3,2125.7L1388.9,2129.9L1378.4,2134.0L1368.0,2137.8L1357.5,2141.5L1347.1,2145.1L1336.7,2148.4L1326.4,2151.6L1316.1,2154.6L1305.8,2157.5L1295.6,2160.3L1285.4,2162.9L1275.3,2165.4L1265.2,2167.7L1255.2,2170.0L1245.2,2172.1L1235.3,2174.1L1225.4,2176.0L1215.6,2177.8L1205.9,2179.6L1196.2,2181.2L1186.6,2182.7L1177.0,2184.2L1167.5,2185.6L1158.0,2186.9L1148.6,2188.1L1139.3,2189.3L1130.0,2190.4L1120.8,2191.5L1111.6,2192.4L1102.4,2193.4L1093.3,2194.3L1084.2,2195.1L1075.2,2195.9L1066.2,2196.6L1057.3,2197.3L1048.3,2197.9L1039.4,2198.5L1030.6,2199.1L1021.7,2199.6L1012.9,2200.1L1004.1,2200.5L995.3,2200.9L986.6,2201.2L977.8,2201.5L969.0,2201.8L960.3,2202.0L951.6,2202.2L942.8,2202.3L934.1,2202.4L925.4,2202.5L916.6,2202.5L907.9,2202.4L899.1,2202.3L890.3,2202.2L881.5,2202.0L872.7,2201.8L863.9,2201.5L855.1,2201.1L846.2,2200.7L837.4,2200.3L828.5,2199.8L819.5,2199.2L810.6,2198.6L801.6,2197.9L792.6,2197.1L783.5,2196.3L774.4,2195.4L765.3,2194.5L756.1,2193.4L747.0,2192.3L737.7,2191.1L728.5,2189.8L719.2,2188.5L709.8,2187.0L700.5,2185.5L691.0,2183.8L681.6,2182.1L672.1,2180.2L662.6,2178.2L653.1,2176.1L643.5,2173.8L634.0,2171.5L624.4,2168.9L614.8,2166.2L605.2,2163.4L595.6,2160.4L586.1,2157.2L576.5,2153.8L567.0,2150.2L557.6,2146.3L548.2,2142.3L539.0,2138.0L529.8,2133.5L520.8,2128.7L511.9,2123.6L503.2,2118.2 L503.2,2118.2L512.1,2123.3L521.3,2128.1L530.5,2132.6L540.0,2136.8L549.5,2140.7L559.1,2144.4L568.8,2147.8L578.5,2151.0L588.3,2154.0L598.0,2156.7L607.8,2159.3L617.6,2161.8L627.3,2164.0L637.0,2166.1L646.7,2168.1L656.4,2170.0L666.0,2171.7L675.5,2173.3L685.0,2174.8L694.5,2176.3L703.9,2177.6L713.3,2178.8L722.6,2180.0L731.8,2181.1L741.0,2182.1L750.2,2183.1L759.3,2184.0L768.3,2184.8L777.3,2185.6L786.3,2186.3L795.2,2186.9L804.1,2187.5L812.9,2188.1L821.8,2188.6L830.5,2189.0L839.3,2189.4L848.0,2189.8L856.7,2190.1L865.4,2190.4L874.0,2190.6L882.6,2190.8L891.2,2190.9L899.8,2191.0L908.4,2191.0L917.0,2191.0L925.6,2190.9L934.1,2190.8L942.7,2190.6L951.2,2190.4L959.8,2190.2L968.3,2189.8L976.9,2189.5L985.4,2189.1L994.0,2188.6L1002.6,2188.1L1011.1,2187.6L1019.7,2187.0L1028.4,2186.4L1037.0,2185.7L1045.6,2184.9L1054.3,2184.1L1063.0,2183.2L1071.7,2182.3L1080.5,2181.4L1089.2,2180.3L1098.1,2179.3L1106.9,2178.1L1115.8,2176.9L1124.7,2175.7L1133.6,2174.3L1142.6,2172.9L1151.6,2171.5L1160.7,2169.9L1169.8,2168.3L1179.0,2166.6L1188.2,2164.8L1197.4,2163.0L1206.7,2161.0L1216.0,2159.0L1225.4,2156.9L1234.8,2154.6L1244.3,2152.3L1253.8,2149.9L1263.3,2147.3L1272.9,2144.7L1282.6,2141.9L1292.2,2139.0L1301.9,2135.9L1311.7,2132.7L1321.4,2129.4L1331.2,2126.0L1341.0,2122.3L1350.9,2118.6L1360.7,2114.6L1370.5,2110.5L1380.4,2106.3L1390.2,2101.8L1400.1,2097.2L1409.9,2092.4L1419.7,2087.4L1429.4,2082.3L1439.2,2076.9L1448.8,2071.3L1458.5,2065.5L1468.0,2059.5L1477.5,2053.4L1486.9,2047.0L1496.2,2040.3L1505.5,2033.5L1514.6,2026.5L1523.5,2019.2L1532.4,2011.7L1541.1,2004.0L1549.7,1996.1L1558.1,1987.9L1566.3,1979.6L1574.3,1971.0L1582.1,1962.2L1589.8,1953.2L1597.2,1944.1L1604.4,1934.7L1611.3,1925.1L1618.0,1915.3L1624.5,1905.3L1630.6,1895.2L1636.5,1884.8L1642.1,1874.3L1647.5,1863.7L1652.5,1852.9L1657.2,1841.9L1661.5,1830.8L1665.6,1819.6L1669.3,1808.3L1672.7,1796.8L1675.7,1785.3L1678.4,1773.7L1680.7,1762.0L1682.7,1750.2L1684.3,1738.4L1685.6,1726.5L1686.5,1714.6L1687.0,1702.7L1687.2,1690.8L1687.0,1678.8L1686.5,1666.9L1685.6,1655.0L1684.3,1643.2L1682.7,1631.4L1680.8,1619.6L1678.5,1607.9L1675.9,1596.3L1672.9,1584.7L1669.7,1573.3L1666.1,1562.0L1662.2,1550.7L1658.1,1539.6L1653.6,1528.7L1648.9,1517.8L1644.0,1507.1L1638.8,1496.5L1633.3,1486.1L1627.6,1475.8L1621.7,1465.7L1615.7,1455.8L1609.4,1446.0L1602.9,1436.3L1596.3,1426.9L1589.6,1417.5L1582.7,1408.4L1575.6,1399.4L1568.5,1390.6L1561.2,1381.9L1553.8,1373.4L1546.4,1365.0L1538.9,1356.8L1531.3,1348.8L1523.6,1340.9L1515.9,1333.1L1508.1,1325.5L1500.3,1318.0L1492.4,1310.6L1484.5,1303.4L1476.6,1296.4L1468.5,1289.4L1460.5,1282.6L1452.4,1276.0L1444.2,1269.5L1436.0,1263.1L1427.7,1257.0L1419.3,1251.0L1410.8,1245.1L1402.2,1239.5L1393.5,1234.1L1384.7,1229.0L1375.7,1224.1L1366.6,1219.6L1357.2,1215.4L1347.7,1211.5L1337.9,1208.1 Z" fill="#fff"/>
<circle cx="553" cy="1225" r="26.5" fill="#fffaf0"/><circle cx="505" cy="1250" r="13.5" fill="#fffaf0"/><circle cx="603" cy="1213" r="13.5" fill="#fffaf0"/>
<g stroke="#3e3a39" stroke-width="1.2" fill="none">
<path d="M1855.5,1670.7 L1785.9,1670.8"/>
<path d="M1855.5,1661.7 L1785.9,1661.8"/>
<path d="M1853.4,1708.1 L1784.2,1702.1"/>
<path d="M1854.2,1699.2 L1784.9,1693.1"/>
<path d="M1848.3,1745.4 L1780.0,1734.6"/>
<path d="M1849.7,1736.5 L1781.4,1725.7"/>
<path d="M1840.4,1782.2 L1773.5,1766.8"/>
<path d="M1842.4,1773.4 L1775.5,1758.0"/>
<path d="M1830.0,1818.6 L1764.7,1799.8"/>
<path d="M1832.5,1809.9 L1767.1,1791.1"/>
<path d="M1817.3,1854.0 L1754.1,1830.7"/>
<path d="M1820.4,1845.5 L1757.3,1822.3"/>
<path d="M1802.6,1888.7 L1741.4,1862.3"/>
<path d="M1806.2,1880.5 L1745.0,1854.0"/>
<path d="M1786.0,1922.7 L1727.0,1893.0"/>
<path d="M1790.1,1914.6 L1731.1,1884.9"/>
<path d="M1767.6,1955.8 L1710.5,1924.0"/>
<path d="M1772.0,1947.9 L1714.8,1916.1"/>
<path d="M1747.5,1987.7 L1692.9,1952.6"/>
<path d="M1752.3,1980.1 L1697.8,1945.0"/>
<path d="M1725.6,2018.6 L1673.2,1981.3"/>
<path d="M1730.8,2011.2 L1678.4,1974.0"/>
<path d="M1701.9,2047.9 L1652.8,2007.5"/>
<path d="M1707.7,2040.9 L1658.5,2000.6"/>
<path d="M1676.5,2075.9 L1630.1,2033.5"/>
<path d="M1682.6,2069.2 L1636.2,2026.8"/>
<path d="M1649.3,2102.1 L1606.0,2057.9"/>
<path d="M1655.7,2095.8 L1612.5,2051.6"/>
<path d="M1620.4,2126.4 L1580.6,2080.6"/>
<path d="M1627.2,2120.5 L1587.4,2074.7"/>
<path d="M1590.0,2148.7 L1554.1,2101.6"/>
<path d="M1597.2,2143.2 L1561.2,2096.1"/>
<path d="M1558.2,2168.9 L1526.4,2120.8"/>
<path d="M1565.7,2163.9 L1533.9,2115.8"/>
<path d="M1525.2,2187.2 L1496.9,2138.9"/>
<path d="M1532.9,2182.7 L1504.7,2134.4"/>
<path d="M1491.2,2203.6 L1466.7,2155.2"/>
<path d="M1499.2,2199.5 L1474.7,2151.2"/>
<path d="M1456.3,2218.4 L1435.0,2170.4"/>
<path d="M1464.6,2214.7 L1443.2,2166.7"/>
<path d="M1420.8,2231.7 L1401.9,2184.3"/>
<path d="M1429.2,2228.4 L1410.3,2181.0"/>
<path d="M1384.8,2243.9 L1367.8,2197.1"/>
<path d="M1393.2,2240.8 L1376.2,2194.0"/>
<path d="M1348.5,2255.0 L1333.8,2208.3"/>
<path d="M1357.1,2252.3 L1342.4,2205.6"/>
<path d="M1312.0,2265.2 L1299.0,2218.5"/>
<path d="M1320.6,2262.8 L1307.7,2216.1"/>
<path d="M1275.1,2274.7 L1263.6,2227.8"/>
<path d="M1283.9,2272.6 L1272.4,2225.6"/>
<path d="M1238.1,2283.5 L1227.6,2236.1"/>
<path d="M1246.8,2281.6 L1236.4,2234.1"/>
<path d="M1200.9,2291.3 L1192.0,2243.1"/>
<path d="M1209.7,2289.7 L1200.9,2241.5"/>
<path d="M1163.4,2298.2 L1155.8,2249.2"/>
<path d="M1172.3,2296.8 L1164.7,2247.8"/>
<path d="M1125.7,2304.0 L1119.0,2254.2"/>
<path d="M1134.7,2302.7 L1127.9,2253.0"/>
<path d="M1088.0,2308.5 L1082.6,2258.2"/>
<path d="M1096.9,2307.5 L1091.6,2257.3"/>
<path d="M1050.0,2311.9 L1045.6,2261.5"/>
<path d="M1058.9,2311.1 L1054.5,2260.7"/>
<path d="M1012.0,2314.3 L1008.9,2264.0"/>
<path d="M1021.0,2313.7 L1017.8,2263.4"/>
<path d="M973.8,2316.0 L971.3,2266.1"/>
<path d="M982.8,2315.6 L980.3,2265.7"/>
<path d="M935.6,2317.2 L933.9,2267.8"/>
<path d="M944.6,2316.8 L942.9,2267.5"/>
<path d="M897.4,2317.9 L896.2,2269.0"/>
<path d="M906.4,2317.7 L905.2,2268.8"/>
<path d="M859.3,2318.1 L859.3,2269.5"/>
<path d="M868.3,2318.1 L868.3,2269.5"/>
<path d="M821.1,2317.6 L821.9,2269.2"/>
<path d="M830.1,2317.8 L830.9,2269.4"/>
<path d="M783.3,2316.3 L786.2,2267.8"/>
<path d="M792.3,2316.8 L795.2,2268.3"/>
<path d="M745.4,2313.8 L750.1,2265.1"/>
<path d="M754.3,2314.7 L759.1,2266.0"/>
<path d="M707.5,2310.1 L713.7,2261.0"/>
<path d="M716.4,2311.2 L722.6,2262.1"/>
<path d="M669.9,2304.8 L678.0,2255.5"/>
<path d="M678.8,2306.3 L686.9,2256.9"/>
<path d="M632.7,2298.0 L643.1,2248.6"/>
<path d="M641.5,2299.9 L651.9,2250.5"/>
<path d="M595.6,2289.8 L608.0,2240.3"/>
<path d="M604.3,2292.0 L616.7,2242.5"/>
<path d="M559.0,2280.1 L573.8,2230.8"/>
<path d="M567.6,2282.7 L582.4,2233.4"/>
<path d="M522.6,2269.1 L539.4,2219.9"/>
<path d="M531.2,2272.0 L547.9,2222.8"/>
<path d="M486.6,2256.9 L504.8,2207.6"/>
<path d="M495.0,2260.0 L513.2,2210.7"/>
<path d="M451.3,2243.3 L472.4,2194.4"/>
<path d="M459.6,2246.9 L480.7,2198.0"/>
<path d="M416.2,2228.5 L438.9,2179.4"/>
<path d="M424.4,2232.3 L447.1,2183.2"/>
<path d="M382.1,2212.3 L407.9,2163.6"/>
<path d="M390.0,2216.6 L415.9,2167.9"/>
<path d="M348.5,2194.8 L377.2,2146.3"/>
<path d="M356.3,2199.4 L384.9,2150.9"/>
<path d="M315.7,2175.7 L347.0,2127.4"/>
<path d="M323.3,2180.6 L354.5,2132.2"/>
<path d="M284.1,2155.1 L318.5,2107.3"/>
<path d="M291.4,2160.4 L325.8,2112.6"/>
<path d="M253.6,2132.9 L292.0,2086.4"/>
<path d="M260.6,2138.6 L298.9,2092.1"/>
<path d="M224.4,2109.0 L266.4,2063.9"/>
<path d="M231.0,2115.1 L272.9,2070.0"/>
<path d="M196.7,2083.4 L241.9,2039.9"/>
<path d="M202.9,2089.9 L248.1,2046.3"/>
<path d="M170.5,2056.1 L218.8,2014.2"/>
<path d="M176.4,2062.9 L224.7,2021.0"/>
<path d="M146.3,2027.3 L198.1,1988.1"/>
<path d="M151.7,2034.5 L203.5,1995.3"/>
<path d="M124.0,1996.9 L179.0,1960.7"/>
<path d="M128.9,2004.4 L184.0,1968.2"/>
<path d="M103.8,1965.1 L161.7,1932.0"/>
<path d="M108.3,1972.9 L166.2,1939.8"/>
<path d="M85.9,1931.9 L146.3,1902.2"/>
<path d="M89.9,1940.0 L150.3,1910.2"/>
<path d="M70.5,1897.7 L133.6,1872.5"/>
<path d="M73.8,1906.0 L136.9,1880.9"/>
<path d="M57.5,1862.3 L122.4,1840.8"/>
<path d="M60.3,1870.8 L125.2,1849.4"/>
<path d="M47.1,1826.2 L113.8,1809.7"/>
<path d="M49.3,1834.9 L115.9,1818.4"/>
<path d="M39.3,1789.2 L107.0,1776.7"/>
<path d="M40.9,1798.1 L108.6,1785.5"/>
<path d="M34.1,1752.0 L102.7,1744.7"/>
<path d="M35.1,1761.0 L103.7,1753.6"/>
<path d="M31.5,1714.4 L100.3,1711.1"/>
<path d="M31.9,1723.4 L100.7,1720.0"/>
<path d="M31.3,1676.6 L100.1,1677.4"/>
<path d="M31.2,1685.6 L100.0,1686.4"/>
<path d="M33.5,1639.0 L101.9,1643.8"/>
<path d="M32.8,1647.9 L101.2,1652.8"/>
<path d="M37.9,1601.5 L105.5,1610.4"/>
<path d="M36.7,1610.4 L104.4,1619.3"/>
<path d="M44.4,1564.1 L111.2,1576.0"/>
<path d="M42.8,1573.0 L109.6,1584.8"/>
<path d="M52.8,1527.4 L118.3,1543.3"/>
<path d="M50.7,1536.1 L116.1,1552.1"/>
<path d="M63.0,1490.9 L127.2,1509.8"/>
<path d="M60.5,1499.6 L124.6,1518.4"/>
<path d="M74.9,1454.8 L137.9,1475.6"/>
<path d="M72.1,1463.4 L135.1,1484.1"/>
<path d="M88.5,1419.5 L149.9,1443.3"/>
<path d="M85.2,1427.9 L146.6,1451.7"/>
<path d="M103.7,1384.9 L163.2,1411.8"/>
<path d="M100.0,1393.1 L159.5,1420.0"/>
<path d="M120.6,1350.9 L178.5,1379.8"/>
<path d="M116.5,1359.0 L174.5,1387.9"/>
<path d="M139.1,1318.1 L194.8,1350.1"/>
<path d="M134.7,1325.9 L190.4,1357.9"/>
<path d="M159.5,1286.3 L212.7,1321.3"/>
<path d="M154.6,1293.9 L207.7,1328.8"/>
<path d="M181.7,1255.7 L232.7,1292.6"/>
<path d="M176.5,1262.9 L227.4,1299.9"/>
<path d="M205.8,1226.6 L253.6,1266.4"/>
<path d="M200.0,1233.6 L247.8,1273.3"/>
<path d="M231.6,1199.2 L275.9,1241.6"/>
<path d="M225.4,1205.8 L269.7,1248.1"/>
<path d="M259.2,1173.4 L300.6,1217.3"/>
<path d="M252.7,1179.6 L294.0,1223.5"/>
<path d="M288.5,1149.5 L326.5,1194.8"/>
<path d="M281.6,1155.3 L319.6,1200.6"/>
<path d="M319.1,1127.5 L353.6,1174.0"/>
<path d="M311.9,1132.9 L346.4,1179.4"/>
<path d="M351.0,1107.4 L381.7,1155.0"/>
<path d="M343.5,1112.3 L374.2,1159.9"/>
<path d="M384.1,1089.0 L411.6,1137.0"/>
<path d="M376.2,1093.5 L403.8,1141.5"/>
<path d="M418.0,1072.2 L443.1,1120.1"/>
<path d="M410.1,1076.3 L435.1,1124.3"/>
<path d="M452.7,1056.9 L475.0,1105.0"/>
<path d="M444.5,1060.7 L466.8,1108.8"/>
<path d="M487.9,1043.2 L507.1,1091.5"/>
<path d="M479.5,1046.5 L498.8,1094.8"/>
<path d="M523.8,1030.5 L541.5,1078.6"/>
<path d="M515.4,1033.6 L533.0,1081.7"/>
<path d="M559.9,1019.4 L574.7,1067.7"/>
<path d="M551.3,1022.0 L566.1,1070.4"/>
<path d="M596.6,1009.3 L610.0,1057.5"/>
<path d="M588.0,1011.7 L601.3,1059.9"/>
<path d="M633.6,1000.6 L645.1,1048.9"/>
<path d="M624.8,1002.6 L636.3,1051.0"/>
<path d="M670.8,993.2 L680.0,1041.7"/>
<path d="M661.9,994.9 L671.2,1043.4"/>
<path d="M708.3,987.2 L715.7,1035.7"/>
<path d="M699.4,988.5 L706.8,1037.0"/>
<path d="M746.0,982.4 L752.2,1030.8"/>
<path d="M737.1,983.6 L743.3,1031.9"/>
<path d="M783.9,979.0 L788.4,1027.2"/>
<path d="M774.9,979.8 L779.4,1028.0"/>
<path d="M821.7,976.8 L824.2,1024.7"/>
<path d="M812.7,977.2 L815.2,1025.2"/>
<path d="M859.9,975.5 L861.8,1023.0"/>
<path d="M850.9,975.8 L852.8,1023.4"/>
<path d="M897.9,975.2 L898.1,1022.5"/>
<path d="M888.9,975.2 L889.1,1022.5"/>
<path d="M936.0,975.8 L935.2,1022.8"/>
<path d="M927.0,975.6 L926.2,1022.7"/>
<path d="M973.9,977.4 L971.2,1024.3"/>
<path d="M964.9,976.9 L962.2,1023.8"/>
<path d="M1011.8,980.2 L1007.2,1027.0"/>
<path d="M1002.8,979.3 L998.2,1026.2"/>
<path d="M1049.5,984.1 L1043.0,1031.1"/>
<path d="M1040.6,982.9 L1034.1,1029.9"/>
<path d="M1087.0,989.6 L1078.7,1036.8"/>
<path d="M1078.2,988.1 L1069.9,1035.2"/>
<path d="M1124.4,996.7 L1114.3,1044.0"/>
<path d="M1115.5,994.9 L1105.5,1042.1"/>
<path d="M1161.1,1005.6 L1148.6,1052.6"/>
<path d="M1152.4,1003.2 L1139.9,1050.3"/>
<path d="M1197.5,1016.1 L1182.7,1062.7"/>
<path d="M1188.9,1013.3 L1174.2,1060.0"/>
<path d="M1233.4,1028.1 L1216.6,1074.2"/>
<path d="M1225.0,1025.0 L1208.2,1071.2"/>
<path d="M1269.1,1041.6 L1251.3,1087.4"/>
<path d="M1260.7,1038.4 L1242.9,1084.2"/>
<path d="M1303.9,1056.4 L1283.8,1101.3"/>
<path d="M1295.7,1052.8 L1275.6,1097.6"/>
<path d="M1338.5,1072.4 L1317.1,1116.8"/>
<path d="M1330.4,1068.5 L1309.0,1112.9"/>
<path d="M1372.4,1089.4 L1349.3,1133.2"/>
<path d="M1364.5,1085.2 L1341.4,1129.0"/>
<path d="M1405.9,1107.4 L1381.5,1150.8"/>
<path d="M1398.1,1103.0 L1373.6,1146.3"/>
<path d="M1438.8,1126.3 L1412.5,1169.1"/>
<path d="M1431.2,1121.6 L1404.8,1164.4"/>
<path d="M1471.3,1146.2 L1443.5,1188.6"/>
<path d="M1463.8,1141.2 L1435.9,1183.7"/>
<path d="M1503.4,1166.9 L1474.5,1209.4"/>
<path d="M1495.9,1161.8 L1467.1,1204.4"/>
<path d="M1534.8,1188.4 L1504.6,1230.8"/>
<path d="M1527.5,1183.2 L1497.3,1225.6"/>
<path d="M1565.6,1210.8 L1533.8,1252.7"/>
<path d="M1558.4,1205.4 L1526.6,1247.3"/>
<path d="M1595.7,1233.9 L1562.0,1275.1"/>
<path d="M1588.7,1228.2 L1555.1,1269.4"/>
<path d="M1625.2,1258.0 L1590.2,1298.9"/>
<path d="M1618.4,1252.1 L1583.4,1293.0"/>
<path d="M1654.0,1282.9 L1617.2,1323.2"/>
<path d="M1647.3,1276.8 L1610.6,1317.1"/>
<path d="M1681.7,1308.7 L1642.7,1348.1"/>
<path d="M1675.3,1302.4 L1636.3,1341.8"/>
<path d="M1708.3,1335.6 L1666.4,1373.6"/>
<path d="M1702.3,1328.9 L1660.4,1367.0"/>
<path d="M1733.5,1363.5 L1688.2,1399.6"/>
<path d="M1727.9,1356.5 L1682.6,1392.5"/>
<path d="M1757.3,1392.8 L1708.6,1426.9"/>
<path d="M1752.1,1385.5 L1703.4,1419.5"/>
<path d="M1779.2,1423.5 L1727.2,1455.6"/>
<path d="M1774.5,1415.9 L1722.5,1448.0"/>
<path d="M1798.9,1455.6 L1743.1,1484.5"/>
<path d="M1794.8,1447.6 L1739.0,1476.5"/>
<path d="M1816.1,1489.0 L1756.8,1514.5"/>
<path d="M1812.6,1480.7 L1753.2,1506.2"/>
<path d="M1830.4,1523.5 L1767.5,1544.1"/>
<path d="M1827.6,1515.0 L1764.7,1535.6"/>
<path d="M1841.8,1559.4 L1776.2,1575.8"/>
<path d="M1839.6,1550.7 L1774.0,1567.1"/>
<path d="M1849.7,1596.0 L1781.9,1606.7"/>
<path d="M1848.3,1587.1 L1780.5,1597.8"/>
<path d="M1854.3,1633.1 L1785.2,1638.0"/>
<path d="M1853.7,1624.1 L1784.5,1629.0"/>
</g>
<g fill="#ccb874">
<circle cx="1779.4" cy="1656.1" r="18.2"/>
<circle cx="1778.4" cy="1692.5" r="18.2"/>
<circle cx="1774.3" cy="1728.7" r="18.2"/>
<circle cx="1767.4" cy="1764.4" r="18.2"/>
<circle cx="1757.9" cy="1799.6" r="18.2"/>
<circle cx="1746.0" cy="1834.0" r="18.2"/>
<circle cx="1732.0" cy="1867.6" r="18.2"/>
<circle cx="1716.0" cy="1900.3" r="18.2"/>
<circle cx="1698.2" cy="1932.0" r="18.2"/>
<circle cx="1678.5" cy="1962.6" r="18.2"/>
<circle cx="1657.0" cy="1992.0" r="18.2"/>
<circle cx="1633.7" cy="2020.0" r="18.2"/>
<circle cx="1608.6" cy="2046.4" r="18.2"/>
<circle cx="1581.9" cy="2071.1" r="18.2"/>
<circle cx="1553.5" cy="2093.9" r="18.2"/>
<circle cx="1523.8" cy="2114.9" r="18.2"/>
<circle cx="1492.8" cy="2133.9" r="18.2"/>
<circle cx="1460.7" cy="2151.2" r="18.2"/>
<circle cx="1427.8" cy="2166.6" r="18.2"/>
<circle cx="1394.1" cy="2180.6" r="18.2"/>
<circle cx="1359.9" cy="2193.0" r="18.2"/>
<circle cx="1325.3" cy="2204.2" r="18.2"/>
<circle cx="1290.3" cy="2214.3" r="18.2"/>
<circle cx="1255.1" cy="2223.3" r="18.2"/>
<circle cx="1219.5" cy="2231.2" r="18.2"/>
<circle cx="1183.8" cy="2238.0" r="18.2"/>
<circle cx="1147.9" cy="2243.8" r="18.2"/>
<circle cx="1111.8" cy="2248.6" r="18.2"/>
<circle cx="1075.7" cy="2252.4" r="18.2"/>
<circle cx="1039.4" cy="2255.4" r="18.2"/>
<circle cx="1003.1" cy="2257.8" r="18.2"/>
<circle cx="966.8" cy="2259.8" r="18.2"/>
<circle cx="930.5" cy="2261.4" r="18.2"/>
<circle cx="894.1" cy="2262.6" r="18.2"/>
<circle cx="857.8" cy="2263.1" r="18.2"/>
<circle cx="821.4" cy="2262.7" r="18.2"/>
<circle cx="785.0" cy="2261.3" r="18.2"/>
<circle cx="748.8" cy="2258.5" r="18.2"/>
<circle cx="712.6" cy="2254.3" r="18.2"/>
<circle cx="676.7" cy="2248.6" r="18.2"/>
<circle cx="641.0" cy="2241.5" r="18.2"/>
<circle cx="605.6" cy="2233.1" r="18.2"/>
<circle cx="570.6" cy="2223.2" r="18.2"/>
<circle cx="536.0" cy="2212.0" r="18.2"/>
<circle cx="501.8" cy="2199.5" r="18.2"/>
<circle cx="468.1" cy="2185.7" r="18.2"/>
<circle cx="435.1" cy="2170.4" r="18.2"/>
<circle cx="402.8" cy="2153.6" r="18.2"/>
<circle cx="371.3" cy="2135.3" r="18.2"/>
<circle cx="340.8" cy="2115.4" r="18.2"/>
<circle cx="311.5" cy="2093.9" r="18.2"/>
<circle cx="283.4" cy="2070.7" r="18.2"/>
<circle cx="256.8" cy="2045.9" r="18.2"/>
<circle cx="231.8" cy="2019.4" r="18.2"/>
<circle cx="208.6" cy="1991.3" r="18.2"/>
<circle cx="187.5" cy="1961.7" r="18.2"/>
<circle cx="168.4" cy="1930.7" r="18.2"/>
<circle cx="151.8" cy="1898.3" r="18.2"/>
<circle cx="137.6" cy="1864.8" r="18.2"/>
<circle cx="126.0" cy="1830.3" r="18.2"/>
<circle cx="117.1" cy="1795.0" r="18.2"/>
<circle cx="111.0" cy="1759.1" r="18.2"/>
<circle cx="107.4" cy="1722.9" r="18.2"/>
<circle cx="106.5" cy="1686.5" r="18.2"/>
<circle cx="107.9" cy="1650.2" r="18.2"/>
<circle cx="111.6" cy="1613.9" r="18.2"/>
<circle cx="117.4" cy="1578.0" r="18.2"/>
<circle cx="125.1" cy="1542.4" r="18.2"/>
<circle cx="134.6" cy="1507.3" r="18.2"/>
<circle cx="145.9" cy="1472.7" r="18.2"/>
<circle cx="158.8" cy="1438.6" r="18.2"/>
<circle cx="173.3" cy="1405.3" r="18.2"/>
<circle cx="189.6" cy="1372.7" r="18.2"/>
<circle cx="207.7" cy="1341.1" r="18.2"/>
<circle cx="227.7" cy="1310.7" r="18.2"/>
<circle cx="249.5" cy="1281.6" r="18.2"/>
<circle cx="273.2" cy="1253.9" r="18.2"/>
<circle cx="298.7" cy="1227.9" r="18.2"/>
<circle cx="325.9" cy="1203.7" r="18.2"/>
<circle cx="354.5" cy="1181.4" r="18.2"/>
<circle cx="384.6" cy="1160.8" r="18.2"/>
<circle cx="415.8" cy="1142.0" r="18.2"/>
<circle cx="447.9" cy="1124.9" r="18.2"/>
<circle cx="480.8" cy="1109.5" r="18.2"/>
<circle cx="514.5" cy="1095.5" r="18.2"/>
<circle cx="548.6" cy="1083.0" r="18.2"/>
<circle cx="583.3" cy="1071.8" r="18.2"/>
<circle cx="618.3" cy="1062.0" r="18.2"/>
<circle cx="653.7" cy="1053.6" r="18.2"/>
<circle cx="689.4" cy="1046.6" r="18.2"/>
<circle cx="725.3" cy="1040.8" r="18.2"/>
<circle cx="761.4" cy="1036.3" r="18.2"/>
<circle cx="797.6" cy="1032.9" r="18.2"/>
<circle cx="833.9" cy="1030.7" r="18.2"/>
<circle cx="870.3" cy="1029.3" r="18.2"/>
<circle cx="906.7" cy="1028.9" r="18.2"/>
<circle cx="943.0" cy="1029.6" r="18.2"/>
<circle cx="979.3" cy="1031.3" r="18.2"/>
<circle cx="1015.6" cy="1034.4" r="18.2"/>
<circle cx="1051.7" cy="1038.9" r="18.2"/>
<circle cx="1087.5" cy="1045.0" r="18.2"/>
<circle cx="1123.1" cy="1052.7" r="18.2"/>
<circle cx="1158.2" cy="1062.1" r="18.2"/>
<circle cx="1192.9" cy="1072.9" r="18.2"/>
<circle cx="1227.2" cy="1085.0" r="18.2"/>
<circle cx="1261.0" cy="1098.5" r="18.2"/>
<circle cx="1294.3" cy="1113.2" r="18.2"/>
<circle cx="1327.1" cy="1128.9" r="18.2"/>
<circle cx="1359.3" cy="1145.8" r="18.2"/>
<circle cx="1391.0" cy="1163.7" r="18.2"/>
<circle cx="1422.1" cy="1182.6" r="18.2"/>
<circle cx="1452.6" cy="1202.4" r="18.2"/>
<circle cx="1482.7" cy="1222.9" r="18.2"/>
<circle cx="1512.1" cy="1244.3" r="18.2"/>
<circle cx="1541.0" cy="1266.4" r="18.2"/>
<circle cx="1569.3" cy="1289.4" r="18.2"/>
<circle cx="1596.8" cy="1313.2" r="18.2"/>
<circle cx="1623.5" cy="1338.0" r="18.2"/>
<circle cx="1649.0" cy="1364.0" r="18.2"/>
<circle cx="1673.2" cy="1391.2" r="18.2"/>
<circle cx="1695.7" cy="1419.8" r="18.2"/>
<circle cx="1716.2" cy="1449.9" r="18.2"/>
<circle cx="1734.3" cy="1481.5" r="18.2"/>
<circle cx="1749.7" cy="1514.4" r="18.2"/>
<circle cx="1762.1" cy="1548.7" r="18.2"/>
<circle cx="1771.3" cy="1583.9" r="18.2"/>
<circle cx="1777.0" cy="1619.8" r="18.2"/>
</g>
<g fill="url(#gb)" stroke="#3b3735" stroke-width="1.6">
<circle cx="1781.9" cy="1656.2" r="16.8"/>
<circle cx="1780.9" cy="1692.7" r="16.8"/>
<circle cx="1776.8" cy="1728.9" r="16.8"/>
<circle cx="1769.9" cy="1764.8" r="16.8"/>
<circle cx="1760.3" cy="1800.0" r="16.8"/>
<circle cx="1748.5" cy="1834.5" r="16.8"/>
<circle cx="1734.4" cy="1868.2" r="16.8"/>
<circle cx="1718.4" cy="1901.1" r="16.8"/>
<circle cx="1700.5" cy="1932.9" r="16.8"/>
<circle cx="1680.8" cy="1963.6" r="16.8"/>
<circle cx="1659.2" cy="1993.1" r="16.8"/>
<circle cx="1635.9" cy="2021.1" r="16.8"/>
<circle cx="1610.8" cy="2047.6" r="16.8"/>
<circle cx="1584.0" cy="2072.4" r="16.8"/>
<circle cx="1555.6" cy="2095.4" r="16.8"/>
<circle cx="1525.7" cy="2116.4" r="16.8"/>
<circle cx="1494.7" cy="2135.6" r="16.8"/>
<circle cx="1462.5" cy="2152.9" r="16.8"/>
<circle cx="1429.5" cy="2168.5" r="16.8"/>
<circle cx="1395.7" cy="2182.4" r="16.8"/>
<circle cx="1361.5" cy="2195.0" r="16.8"/>
<circle cx="1326.7" cy="2206.3" r="16.8"/>
<circle cx="1291.6" cy="2216.4" r="16.8"/>
<circle cx="1256.3" cy="2225.4" r="16.8"/>
<circle cx="1220.6" cy="2233.4" r="16.8"/>
<circle cx="1184.8" cy="2240.3" r="16.8"/>
<circle cx="1148.7" cy="2246.2" r="16.8"/>
<circle cx="1112.5" cy="2251.0" r="16.8"/>
<circle cx="1076.2" cy="2254.8" r="16.8"/>
<circle cx="1039.8" cy="2257.9" r="16.8"/>
<circle cx="1003.4" cy="2260.3" r="16.8"/>
<circle cx="966.9" cy="2262.3" r="16.8"/>
<circle cx="930.5" cy="2263.9" r="16.8"/>
<circle cx="894.0" cy="2265.1" r="16.8"/>
<circle cx="857.4" cy="2265.6" r="16.8"/>
<circle cx="820.9" cy="2265.2" r="16.8"/>
<circle cx="784.4" cy="2263.7" r="16.8"/>
<circle cx="748.0" cy="2260.9" r="16.8"/>
<circle cx="711.8" cy="2256.7" r="16.8"/>
<circle cx="675.7" cy="2250.9" r="16.8"/>
<circle cx="639.9" cy="2243.8" r="16.8"/>
<circle cx="604.4" cy="2235.2" r="16.8"/>
<circle cx="569.3" cy="2225.3" r="16.8"/>
<circle cx="534.5" cy="2214.1" r="16.8"/>
<circle cx="500.2" cy="2201.5" r="16.8"/>
<circle cx="466.5" cy="2187.5" r="16.8"/>
<circle cx="433.4" cy="2172.2" r="16.8"/>
<circle cx="401.0" cy="2155.3" r="16.8"/>
<circle cx="369.4" cy="2136.9" r="16.8"/>
<circle cx="338.9" cy="2117.0" r="16.8"/>
<circle cx="309.5" cy="2095.3" r="16.8"/>
<circle cx="281.3" cy="2072.1" r="16.8"/>
<circle cx="254.7" cy="2047.1" r="16.8"/>
<circle cx="229.6" cy="2020.6" r="16.8"/>
<circle cx="206.4" cy="1992.4" r="16.8"/>
<circle cx="185.1" cy="1962.7" r="16.8"/>
<circle cx="166.1" cy="1931.6" r="16.8"/>
<circle cx="149.4" cy="1899.1" r="16.8"/>
<circle cx="135.2" cy="1865.5" r="16.8"/>
<circle cx="123.6" cy="1830.9" r="16.8"/>
<circle cx="114.7" cy="1795.5" r="16.8"/>
<circle cx="108.5" cy="1759.5" r="16.8"/>
<circle cx="104.9" cy="1723.1" r="16.8"/>
<circle cx="104.0" cy="1686.6" r="16.8"/>
<circle cx="105.4" cy="1650.2" r="16.8"/>
<circle cx="109.1" cy="1613.8" r="16.8"/>
<circle cx="114.9" cy="1577.8" r="16.8"/>
<circle cx="122.7" cy="1542.1" r="16.8"/>
<circle cx="132.2" cy="1506.9" r="16.8"/>
<circle cx="143.4" cy="1472.1" r="16.8"/>
<circle cx="156.4" cy="1438.0" r="16.8"/>
<circle cx="171.0" cy="1404.5" r="16.8"/>
<circle cx="187.3" cy="1371.8" r="16.8"/>
<circle cx="205.4" cy="1340.2" r="16.8"/>
<circle cx="225.4" cy="1309.6" r="16.8"/>
<circle cx="247.3" cy="1280.4" r="16.8"/>
<circle cx="271.0" cy="1252.6" r="16.8"/>
<circle cx="296.6" cy="1226.6" r="16.8"/>
<circle cx="323.8" cy="1202.3" r="16.8"/>
<circle cx="352.6" cy="1179.8" r="16.8"/>
<circle cx="382.7" cy="1159.1" r="16.8"/>
<circle cx="414.0" cy="1140.3" r="16.8"/>
<circle cx="446.2" cy="1123.1" r="16.8"/>
<circle cx="479.2" cy="1107.6" r="16.8"/>
<circle cx="512.9" cy="1093.5" r="16.8"/>
<circle cx="547.2" cy="1080.9" r="16.8"/>
<circle cx="582.0" cy="1069.7" r="16.8"/>
<circle cx="617.1" cy="1059.8" r="16.8"/>
<circle cx="652.6" cy="1051.4" r="16.8"/>
<circle cx="688.5" cy="1044.2" r="16.8"/>
<circle cx="724.5" cy="1038.4" r="16.8"/>
<circle cx="760.7" cy="1033.9" r="16.8"/>
<circle cx="797.1" cy="1030.5" r="16.8"/>
<circle cx="833.5" cy="1028.2" r="16.8"/>
<circle cx="870.0" cy="1026.8" r="16.8"/>
<circle cx="906.5" cy="1026.4" r="16.8"/>
<circle cx="943.0" cy="1027.1" r="16.8"/>
<circle cx="979.5" cy="1028.8" r="16.8"/>
<circle cx="1015.9" cy="1031.9" r="16.8"/>
<circle cx="1052.1" cy="1036.4" r="16.8"/>
<circle cx="1088.1" cy="1042.6" r="16.8"/>
<circle cx="1123.8" cy="1050.4" r="16.8"/>
<circle cx="1159.1" cy="1059.7" r="16.8"/>
<circle cx="1194.0" cy="1070.6" r="16.8"/>
<circle cx="1228.4" cy="1082.8" r="16.8"/>
<circle cx="1262.3" cy="1096.4" r="16.8"/>
<circle cx="1295.7" cy="1111.1" r="16.8"/>
<circle cx="1328.6" cy="1126.9" r="16.8"/>
<circle cx="1360.9" cy="1143.9" r="16.8"/>
<circle cx="1392.7" cy="1161.9" r="16.8"/>
<circle cx="1423.9" cy="1180.9" r="16.8"/>
<circle cx="1454.5" cy="1200.7" r="16.8"/>
<circle cx="1484.6" cy="1221.4" r="16.8"/>
<circle cx="1514.2" cy="1242.9" r="16.8"/>
<circle cx="1543.1" cy="1265.1" r="16.8"/>
<circle cx="1571.5" cy="1288.1" r="16.8"/>
<circle cx="1599.1" cy="1312.0" r="16.8"/>
<circle cx="1625.8" cy="1337.0" r="16.8"/>
<circle cx="1651.3" cy="1363.0" r="16.8"/>
<circle cx="1675.5" cy="1390.4" r="16.8"/>
<circle cx="1698.1" cy="1419.1" r="16.8"/>
<circle cx="1718.6" cy="1449.3" r="16.8"/>
<circle cx="1736.7" cy="1481.0" r="16.8"/>
<circle cx="1752.2" cy="1514.0" r="16.8"/>
<circle cx="1764.6" cy="1548.4" r="16.8"/>
<circle cx="1773.8" cy="1583.7" r="16.8"/>
<circle cx="1779.5" cy="1619.7" r="16.8"/>
<circle cx="1865.5" cy="1666.2" r="17.6"/>
<circle cx="1863.8" cy="1704.5" r="17.6"/>
<circle cx="1858.9" cy="1742.5" r="17.6"/>
<circle cx="1851.2" cy="1780.1" r="17.6"/>
<circle cx="1840.9" cy="1817.0" r="17.6"/>
<circle cx="1828.3" cy="1853.2" r="17.6"/>
<circle cx="1813.6" cy="1888.6" r="17.6"/>
<circle cx="1797.0" cy="1923.1" r="17.6"/>
<circle cx="1778.5" cy="1956.7" r="17.6"/>
<circle cx="1758.3" cy="1989.3" r="17.6"/>
<circle cx="1736.3" cy="2020.7" r="17.6"/>
<circle cx="1712.5" cy="2050.8" r="17.6"/>
<circle cx="1686.9" cy="2079.3" r="17.6"/>
<circle cx="1659.5" cy="2106.1" r="17.6"/>
<circle cx="1630.4" cy="2131.0" r="17.6"/>
<circle cx="1599.7" cy="2153.9" r="17.6"/>
<circle cx="1567.5" cy="2174.7" r="17.6"/>
<circle cx="1534.1" cy="2193.6" r="17.6"/>
<circle cx="1499.7" cy="2210.5" r="17.6"/>
<circle cx="1464.5" cy="2225.7" r="17.6"/>
<circle cx="1428.7" cy="2239.4" r="17.6"/>
<circle cx="1392.4" cy="2251.8" r="17.6"/>
<circle cx="1355.8" cy="2263.2" r="17.6"/>
<circle cx="1319.0" cy="2273.7" r="17.6"/>
<circle cx="1281.9" cy="2283.4" r="17.6"/>
<circle cx="1244.6" cy="2292.3" r="17.6"/>
<circle cx="1207.1" cy="2300.4" r="17.6"/>
<circle cx="1169.4" cy="2307.4" r="17.6"/>
<circle cx="1131.5" cy="2313.3" r="17.6"/>
<circle cx="1093.5" cy="2317.9" r="17.6"/>
<circle cx="1055.3" cy="2321.4" r="17.6"/>
<circle cx="1017.1" cy="2324.0" r="17.6"/>
<circle cx="978.8" cy="2325.8" r="17.6"/>
<circle cx="940.5" cy="2327.0" r="17.6"/>
<circle cx="902.1" cy="2327.8" r="17.6"/>
<circle cx="863.8" cy="2328.1" r="17.6"/>
<circle cx="825.5" cy="2327.7" r="17.6"/>
<circle cx="787.2" cy="2326.5" r="17.6"/>
<circle cx="748.9" cy="2324.2" r="17.6"/>
<circle cx="710.7" cy="2320.5" r="17.6"/>
<circle cx="672.7" cy="2315.4" r="17.6"/>
<circle cx="635.0" cy="2308.8" r="17.6"/>
<circle cx="597.5" cy="2300.6" r="17.6"/>
<circle cx="560.4" cy="2291.0" r="17.6"/>
<circle cx="523.7" cy="2280.1" r="17.6"/>
<circle cx="487.4" cy="2267.8" r="17.6"/>
<circle cx="451.5" cy="2254.3" r="17.6"/>
<circle cx="416.1" cy="2239.5" r="17.6"/>
<circle cx="381.4" cy="2223.3" r="17.6"/>
<circle cx="347.3" cy="2205.7" r="17.6"/>
<circle cx="314.1" cy="2186.6" r="17.6"/>
<circle cx="281.9" cy="2165.8" r="17.6"/>
<circle cx="250.7" cy="2143.5" r="17.6"/>
<circle cx="220.9" cy="2119.4" r="17.6"/>
<circle cx="192.6" cy="2093.6" r="17.6"/>
<circle cx="165.9" cy="2066.1" r="17.6"/>
<circle cx="141.0" cy="2036.9" r="17.6"/>
<circle cx="118.1" cy="2006.2" r="17.6"/>
<circle cx="97.4" cy="1973.9" r="17.6"/>
<circle cx="78.9" cy="1940.3" r="17.6"/>
<circle cx="62.9" cy="1905.5" r="17.6"/>
<circle cx="49.4" cy="1869.7" r="17.6"/>
<circle cx="38.5" cy="1832.9" r="17.6"/>
<circle cx="30.2" cy="1795.5" r="17.6"/>
<circle cx="24.7" cy="1757.6" r="17.6"/>
<circle cx="21.7" cy="1719.3" r="17.6"/>
<circle cx="21.2" cy="1681.0" r="17.6"/>
<circle cx="23.2" cy="1642.7" r="17.6"/>
<circle cx="27.4" cy="1604.6" r="17.6"/>
<circle cx="33.7" cy="1566.8" r="17.6"/>
<circle cx="42.0" cy="1529.4" r="17.6"/>
<circle cx="52.1" cy="1492.4" r="17.6"/>
<circle cx="64.0" cy="1456.0" r="17.6"/>
<circle cx="77.5" cy="1420.1" r="17.6"/>
<circle cx="92.7" cy="1384.9" r="17.6"/>
<circle cx="109.6" cy="1350.5" r="17.6"/>
<circle cx="128.2" cy="1317.0" r="17.6"/>
<circle cx="148.7" cy="1284.6" r="17.6"/>
<circle cx="171.0" cy="1253.4" r="17.6"/>
<circle cx="195.2" cy="1223.7" r="17.6"/>
<circle cx="221.3" cy="1195.6" r="17.6"/>
<circle cx="249.1" cy="1169.3" r="17.6"/>
<circle cx="278.6" cy="1144.8" r="17.6"/>
<circle cx="309.6" cy="1122.2" r="17.6"/>
<circle cx="341.8" cy="1101.5" r="17.6"/>
<circle cx="375.2" cy="1082.6" r="17.6"/>
<circle cx="409.4" cy="1065.4" r="17.6"/>
<circle cx="444.4" cy="1049.7" r="17.6"/>
<circle cx="480.0" cy="1035.5" r="17.6"/>
<circle cx="516.1" cy="1022.7" r="17.6"/>
<circle cx="552.7" cy="1011.1" r="17.6"/>
<circle cx="589.6" cy="1000.8" r="17.6"/>
<circle cx="626.9" cy="991.9" r="17.6"/>
<circle cx="664.5" cy="984.2" r="17.6"/>
<circle cx="702.3" cy="978.0" r="17.6"/>
<circle cx="740.3" cy="973.1" r="17.6"/>
<circle cx="778.5" cy="969.5" r="17.6"/>
<circle cx="816.7" cy="967.0" r="17.6"/>
<circle cx="855.0" cy="965.7" r="17.6"/>
<circle cx="893.4" cy="965.2" r="17.6"/>
<circle cx="931.7" cy="965.7" r="17.6"/>
<circle cx="970.0" cy="967.2" r="17.6"/>
<circle cx="1008.3" cy="969.8" r="17.6"/>
<circle cx="1046.4" cy="973.6" r="17.6"/>
<circle cx="1084.3" cy="979.0" r="17.6"/>
<circle cx="1122.0" cy="986.0" r="17.6"/>
<circle cx="1159.4" cy="994.7" r="17.6"/>
<circle cx="1196.2" cy="1005.2" r="17.6"/>
<circle cx="1232.6" cy="1017.2" r="17.6"/>
<circle cx="1268.5" cy="1030.7" r="17.6"/>
<circle cx="1303.9" cy="1045.5" r="17.6"/>
<circle cx="1338.7" cy="1061.4" r="17.6"/>
<circle cx="1373.1" cy="1078.5" r="17.6"/>
<circle cx="1406.9" cy="1096.5" r="17.6"/>
<circle cx="1440.2" cy="1115.4" r="17.6"/>
<circle cx="1473.0" cy="1135.3" r="17.6"/>
<circle cx="1505.3" cy="1156.1" r="17.6"/>
<circle cx="1536.9" cy="1177.7" r="17.6"/>
<circle cx="1568.0" cy="1200.1" r="17.6"/>
<circle cx="1598.5" cy="1223.3" r="17.6"/>
<circle cx="1628.3" cy="1247.4" r="17.6"/>
<circle cx="1657.4" cy="1272.4" r="17.6"/>
<circle cx="1685.6" cy="1298.4" r="17.6"/>
<circle cx="1712.7" cy="1325.5" r="17.6"/>
<circle cx="1738.5" cy="1353.8" r="17.6"/>
<circle cx="1762.9" cy="1383.4" r="17.6"/>
<circle cx="1785.4" cy="1414.5" r="17.6"/>
<circle cx="1805.7" cy="1447.0" r="17.6"/>
<circle cx="1823.5" cy="1480.9" r="17.6"/>
<circle cx="1838.5" cy="1516.1" r="17.6"/>
<circle cx="1850.4" cy="1552.6" r="17.6"/>
<circle cx="1858.9" cy="1590.0" r="17.6"/>
<circle cx="1863.9" cy="1627.9" r="17.6"/>
</g>
</g>
<ellipse cx="861.8" cy="1436.2" rx="104.8" ry="98.8" fill="#d5eaef" stroke="#565656" stroke-width="1.7"/>
<ellipse cx="811.0" cy="1396.0" rx="10.5" ry="3.2" fill="#a9a2d2" transform="rotate(42.0 811.0 1396.0)"/>
<ellipse cx="873.6" cy="1397.9" rx="10.0" ry="4.0" fill="#a9a2d2" transform="rotate(12.0 873.6 1397.9)"/>
<ellipse cx="933.9" cy="1431.0" rx="10.0" ry="7.0" fill="#a9a2d2" transform="rotate(25.0 933.9 1431.0)"/>
<ellipse cx="838.0" cy="1437.5" rx="9.5" ry="9.0" fill="#a9a2d2" transform="rotate(20.0 838.0 1437.5)"/>
<ellipse cx="880.3" cy="1451.7" rx="10.5" ry="8.0" fill="#a9a2d2" transform="rotate(15.0 880.3 1451.7)"/>
<ellipse cx="789.8" cy="1472.0" rx="10.0" ry="8.0" fill="#a9a2d2" transform="rotate(-20.0 789.8 1472.0)"/>
<ellipse cx="929.0" cy="1491.4" rx="10.0" ry="4.5" fill="#a9a2d2" transform="rotate(-30.0 929.0 1491.4)"/>
<ellipse cx="866.7" cy="1499.0" rx="10.5" ry="2.5" fill="#a9a2d2" transform="rotate(15.0 866.7 1499.0)"/>
<ellipse cx="489.8" cy="1653.1" rx="166.8" ry="137" fill="#b3c6e7" stroke="#a965ab" stroke-width="4"/>
<ellipse cx="409.6" cy="1698.9" rx="34.2" ry="19.9" fill="#7e62a8" transform="rotate(3.0 409.6 1698.9)"/>
<ellipse cx="478.1" cy="1584.2" rx="5.0" ry="4.6" fill="#1c9dd8"/>
<ellipse cx="576.9" cy="1578.8" rx="4.6" ry="5.4" fill="#1c9dd8" transform="rotate(-20.0 576.9 1578.8)"/>
<ellipse cx="625.0" cy="1631.0" rx="5.0" ry="3.0" fill="#1c9dd8" transform="rotate(45.0 625.0 1631.0)"/>
<ellipse cx="524.7" cy="1647.5" rx="5.0" ry="3.2" fill="#1c9dd8" transform="rotate(5.0 524.7 1647.5)"/>
<ellipse cx="593.6" cy="1696.0" rx="5.0" ry="4.0" fill="#1c9dd8" transform="rotate(-10.0 593.6 1696.0)"/>
<ellipse cx="474.4" cy="1707.0" rx="5.2" ry="2.5" fill="#1c9dd8" transform="rotate(-10.0 474.4 1707.0)"/>
<ellipse cx="418.7" cy="1604.0" rx="5.8" ry="1.6" fill="#a560a8" transform="rotate(48.0 418.7 1604.0)"/>
<ellipse cx="517.1" cy="1619.5" rx="5.2" ry="4.8" fill="#a560a8" transform="rotate(-20.0 517.1 1619.5)"/>
<ellipse cx="530.1" cy="1748.0" rx="5.0" ry="4.5" fill="#a560a8" transform="rotate(20.0 530.1 1748.0)"/>
<ellipse cx="474.6" cy="1755.6" rx="5.0" ry="4.2" fill="#a560a8" transform="rotate(20.0 474.6 1755.6)"/>
<ellipse cx="1484.8" cy="1652.2" rx="104.8" ry="98.2" fill="#d5eaef" stroke="#565656" stroke-width="1.7"/>
<ellipse cx="1478.9" cy="1594.0" rx="10.0" ry="9.5" fill="#a9a2d2"/>
<ellipse cx="1512.7" cy="1630.9" rx="3.8" ry="11.0" fill="#a9a2d2" transform="rotate(-28.0 1512.7 1630.9)"/>
<ellipse cx="1568.1" cy="1629.1" rx="10.5" ry="4.5" fill="#a9a2d2" transform="rotate(5.0 1568.1 1629.1)"/>
<ellipse cx="1544.4" cy="1651.0" rx="10.0" ry="7.5" fill="#a9a2d2" transform="rotate(25.0 1544.4 1651.0)"/>
<ellipse cx="1490.8" cy="1686.1" rx="10.0" ry="6.5" fill="#a9a2d2" transform="rotate(25.0 1490.8 1686.1)"/>
<ellipse cx="1507.5" cy="1724.0" rx="10.0" ry="7.5" fill="#a9a2d2" transform="rotate(-20.0 1507.5 1724.0)"/>
<ellipse cx="1542.9" cy="1719.1" rx="10.0" ry="2.5" fill="#a9a2d2" transform="rotate(-30.0 1542.9 1719.1)"/>
<ellipse cx="1297.3" cy="1653.5" rx="167" ry="136.8" fill="#b3c6e7"/>
<ellipse cx="1297.3" cy="1653.5" rx="169" ry="138.8" fill="#b6c9e9" clip-path="url(#cl1)"/>
<g clip-path="url(#cl2)"><ellipse cx="1297.3" cy="1653.5" rx="167" ry="136.8" fill="none" stroke="#a965ab" stroke-width="4"/></g>
<ellipse cx="1213.5" cy="1698.7" rx="34.3" ry="19.9" fill="#7e62a8" transform="rotate(3.0 1213.5 1698.7)"/>
<ellipse cx="1272.3" cy="1556.3" rx="5.0" ry="3.5" fill="#1c9dd8" transform="rotate(45.0 1272.3 1556.3)"/>
<ellipse cx="1357.9" cy="1612.0" rx="5.5" ry="2.5" fill="#1c9dd8" transform="rotate(30.0 1357.9 1612.0)"/>
<ellipse cx="1423.2" cy="1601.0" rx="5.5" ry="3.0" fill="#1c9dd8" transform="rotate(-10.0 1423.2 1601.0)"/>
<ellipse cx="1265.0" cy="1666.2" rx="4.5" ry="5.0" fill="#1c9dd8" transform="rotate(-20.0 1265.0 1666.2)"/>
<ellipse cx="1423.2" cy="1662.6" rx="5.5" ry="2.8" fill="#1c9dd8" transform="rotate(10.0 1423.2 1662.6)"/>
<ellipse cx="1400.7" cy="1705.2" rx="5.5" ry="1.8" fill="#1c9dd8" transform="rotate(25.0 1400.7 1705.2)"/>
<ellipse cx="1235.2" cy="1608.4" rx="5.2" ry="2.8" fill="#a560a8" transform="rotate(10.0 1235.2 1608.4)"/>
<ellipse cx="1306.9" cy="1618.5" rx="5.5" ry="1.2" fill="#a560a8" transform="rotate(-30.0 1306.9 1618.5)"/>
<ellipse cx="1334.7" cy="1674.5" rx="6.0" ry="2.0" fill="#a560a8" transform="rotate(25.0 1334.7 1674.5)"/>
<ellipse cx="1378.6" cy="1742.6" rx="5.5" ry="3.0" fill="#a560a8" transform="rotate(10.0 1378.6 1742.6)"/>
<ellipse cx="1285.7" cy="1761.1" rx="3.5" ry="5.5" fill="#a560a8" transform="rotate(-25.0 1285.7 1761.1)"/>
<polygon points="799.0,1971.3 786.4,1994.9 759.6,1995.9 745.4,1973.1 758.0,1949.5 784.8,1948.5" fill="#f6b349"/>
<polygon points="917.7,1930.6 905.1,1954.2 878.3,1955.2 864.1,1932.4 876.7,1908.8 903.5,1907.8" fill="#f6b349"/>
<polygon points="912.3,2006.6 899.7,2030.2 872.9,2031.2 858.7,2008.4 871.3,1984.8 898.1,1983.8" fill="#f6b349"/>
<polygon points="900.1,2082.2 887.5,2105.8 860.7,2106.8 846.5,2084.0 859.1,2060.4 885.9,2059.4" fill="#f6b349"/>
<polygon points="1017.7,1953.8 1005.1,1977.4 978.3,1978.4 964.1,1955.6 976.7,1932.0 1003.5,1931.0" fill="#f6b349"/>
<polygon points="1025.4,2046.7 1012.8,2070.3 986.0,2071.3 971.8,2048.5 984.4,2024.9 1011.2,2023.9" fill="#f6b349"/>
<polygon points="1106.4,1912.8 1093.8,1936.4 1067.0,1937.4 1052.8,1914.6 1065.4,1891.0 1092.2,1890.0" fill="#f6b349"/>
<polygon points="1108.2,2004.9 1095.6,2028.5 1068.8,2029.5 1054.6,2006.7 1067.2,1983.1 1094.0,1982.1" fill="#f6b349"/>
<polygon points="1145.6,2069.5 1133.0,2093.1 1106.2,2094.1 1092.0,2071.3 1104.6,2047.7 1131.4,2046.7" fill="#f6b349"/>
<g fill="none" stroke="#231815">
<rect x="759" y="1472.8" width="399.3" height="260.9" rx="47" ry="47" stroke-width="2"/>
<path d="M678,1653.6 L1100,1652.1" stroke-width="2"/>
<path d="M861.2,1549 C864,1620 920,1652 985,1652.4" stroke-width="2"/>
<path d="M1082.2,1534 V1679.4 H975" stroke-width="2"/>
<path d="M972.3,1733.7 V1890" stroke-width="2"/>
<path d="M1159,2059.5 L1995,2057.4" stroke-width="2.9"/>
<path d="M2258.3,1931.4 V1668" stroke-width="2.9"/>
</g>
<path d="M1114.7,1652.0 L1097.7,1661.2 Q1100.6,1656.6 1102.5,1652.0 Q1100.6,1647.4 1097.7,1642.8 Z" fill="#231815"/>
<path d="M961.7,1679.4 L979.1,1670.1 Q976.2,1674.8 974.2,1679.4 Q976.2,1684.1 979.1,1688.7 Z" fill="#231815"/>
<path d="M972.3,1904.3 L963.3,1886.8 Q967.8,1889.8 972.3,1891.7 Q976.8,1889.8 981.3,1886.8 Z" fill="#231815"/>
<path d="M2015.0,2057.3 L1988.0,2071.8 Q1992.3,2064.6 1995.6,2057.3 Q1992.3,2050.1 1988.0,2042.8 Z" fill="#231815"/>
<path d="M2258.3,1647.5 L2273.1,1674.5 Q2265.7,1670.2 2258.3,1666.9 Q2250.9,1670.2 2243.6,1674.5 Z" fill="#231815"/>
<g id="lyso">
<ellipse cx="492.6" cy="384" rx="324.5" ry="332.7" fill="#faf0ae" stroke="#595757" stroke-width="3"/>
<ellipse cx="492.8" cy="385.7" rx="310.8" ry="318.7" fill="#d6eaef" stroke="#595757" stroke-width="1.3"/>
<g fill="none" stroke="#4aa3df" stroke-width="3.6" stroke-linecap="butt">
<path d="M377,199 C390,191 420,225 446,240 C466,250 471,240 467,218 C463,195 450,170 452,155 C454,140 468,142 480,150 C500,163 525,194 543,188"/>
<path d="M639,258 C651,265 646,290 638,315 C631,337 627,358 642,360 C660,362 700,313 729,318"/>
<path d="M360.6,351 C355,362 320,358 290,355.5 C269,354 261,361 268,373 C281,395 330,410 331.5,431.5"/>
<path d="M531,430 C551,436 550,492 560,510 C568,527 585,528 600,505 C615,482 627,452 645,451 C667,450 667,536 691,543"/>
<path d="M338,516 C357,526 345,601 363,605 C381,608 399,530 417,529"/>
<path d="M550.6,514 C553,546 478,552 474,575 C470,599 561,590 564,618 C566,646 490,650 488.6,677"/>
</g>
<polygon points="315.3,265.2 305.6,281.9 286.4,281.9 276.7,265.2 286.3,248.5 305.6,248.5" fill="#4f4ba0"/>
<polygon points="620.0,230.2 610.4,246.9 591.1,246.9 581.4,230.2 591.1,213.5 610.4,213.5" fill="#b04e98"/>
<circle cx="455.8" cy="329.6" r="18.2" fill="#7570b3"/>
<circle cx="685.5" cy="417.7" r="18.2" fill="#07876a"/>
<circle cx="384.4" cy="482.6" r="18.2" fill="#76992e"/>
</g>
<g fill="none" stroke="#231815" stroke-width="1.8">
<path d="M1025.5,198 V1.5 H1757 V767 H1025.5 V248"/>
<path d="M754,198 H1025.5 M766,198 L1025.5,247.5"/>
<path d="M1434.7,466 V270" stroke-width="1.6"/>
</g>
<path d="M1434.6,253.0 L1444.3,270.5 Q1439.5,267.6 1434.6,265.6 Q1429.7,267.6 1424.8,270.5 Z" fill="#231815"/>
<g fill="none" stroke="#000" stroke-linecap="round">
<path d="M1237.0,161.0L1241.0,161.3L1244.9,162.3L1248.9,164.0L1252.9,166.3L1256.9,169.1L1260.8,172.6L1264.8,176.6L1268.8,181.1L1272.7,186.0L1276.7,191.4L1280.7,197.3L1284.6,204.5L1288.6,211.0L1292.6,216.8L1296.6,222.1L1300.5,227.0L1304.5,231.4L1308.5,235.2L1312.4,238.6L1316.4,241.3L1320.4,243.4L1324.4,245.0L1328.3,245.8L1332.3,246.0L1336.3,245.5L1340.2,244.4L1344.2,242.6L1348.2,240.1L1352.1,237.1L1356.1,233.5L1360.1,229.4L1364.1,224.8L1368.0,219.8L1372.0,214.3L1376.0,208.2L1379.9,200.9L1383.9,194.6L1387.9,188.9L1391.9,183.7L1395.8,179.0L1399.8,174.7L1403.8,171.0L1407.7,167.8L1411.7,165.2L1415.7,163.2L1419.6,161.8L1423.6,161.1L1427.6,161.1L1431.6,161.7L1435.5,163.0L1439.5,164.9L1443.5,167.5L1447.4,170.6L1451.4,174.3L1455.4,178.6L1459.4,183.3L1463.3,188.4L1467.3,194.0L1471.3,200.2L1475.2,207.6L1479.2,213.7L1483.2,219.3L1487.1,224.4L1491.1,229.0L1495.1,233.2L1499.1,236.8L1503.0,239.9L1507.0,242.4L1511.0,244.2L1514.9,245.4L1518.9,246.0L1522.9,245.8L1526.9,245.1L1530.8,243.6L1534.8,241.5L1538.8,238.9L1542.7,235.6L1546.7,231.8L1550.7,227.4L1554.6,222.6L1558.6,217.4L1562.6,211.6L1566.6,205.2L1570.5,198.0L1574.5,192.0L1578.5,186.5L1582.4,181.5L1586.4,177.0L1590.4,173.0L1594.4,169.5L1598.3,166.5L1602.3,164.2L1606.3,162.5L1610.2,161.4L1614.2,161.0L1618.2,161.3L1622.1,162.2L1626.1,163.8L1630.1,166.0L1634.1,168.8L1638.0,172.2L1642.0,176.2L1646.0,180.6L1649.9,185.5L1653.9,190.9L1657.9,196.7L1661.9,203.6L1665.8,210.4L1669.8,216.3L1673.8,221.6L1677.7,226.5L1681.7,230.9L1685.7,234.9L1689.6,238.3L1693.6,241.1L1697.6,243.3L1701.6,244.8L1705.5,245.7L1709.5,246.0" stroke-width="1.9"/>
<path d="M1151.5,160.5L1155.5,160.8L1159.4,161.8L1163.4,163.5L1167.3,165.7L1171.3,168.6L1175.3,172.1L1179.2,176.0L1183.2,180.5L1187.2,185.4L1191.1,190.8L1195.1,196.7L1199.0,203.8L1203.0,210.4L1207.0,216.2L1210.9,221.5L1214.9,226.3L1218.9,230.7L1222.8,234.6L1226.8,237.9L1230.7,240.7L1234.7,242.9L1238.7,244.4L1242.6,245.3L1246.6,245.5L1250.6,245.0L1254.5,243.9L1258.5,242.2L1262.4,239.8L1266.4,236.8L1270.4,233.3L1274.3,229.2L1278.3,224.7L1282.3,219.7L1286.2,214.2L1290.2,208.2L1294.1,200.9L1298.1,194.6L1302.1,188.9L1306.0,183.7L1310.0,178.9L1313.9,174.6L1317.9,170.8L1321.9,167.5L1325.8,164.9L1329.8,162.8L1333.8,161.4L1337.7,160.6L1341.7,160.5L1345.6,161.1L1349.6,162.3L1353.6,164.2L1357.5,166.7L1361.5,169.7L1365.5,173.4L1369.4,177.5L1373.4,182.2L1377.3,187.3L1381.3,192.8L1385.3,198.9L1389.2,206.3L1393.2,212.5L1397.2,218.1L1401.1,223.2L1405.1,227.9L1409.0,232.1L1413.0,235.8L1417.0,239.0L1420.9,241.5L1424.9,243.5L1428.9,244.8L1432.8,245.4L1436.8,245.4L1440.7,244.7L1444.7,243.4L1448.7,241.4L1452.6,238.8L1456.6,235.7L1460.6,231.9L1464.5,227.7L1468.5,223.0L1472.4,217.8L1476.4,212.2L1480.4,205.9L1484.3,198.6L1488.3,192.5L1492.2,187.0L1496.2,181.9L1500.2,177.3L1504.1,173.2L1508.1,169.6L1512.1,166.5L1516.0,164.1L1520.0,162.3L1523.9,161.1L1527.9,160.5L1531.9,160.7L1535.8,161.5L1539.8,162.9L1543.8,165.0L1547.7,167.7L1551.7,171.0L1555.6,174.8L1559.6,179.1L1563.6,183.9L1567.5,189.1L1571.5,194.9L1575.5,201.3L1579.4,208.5L1583.4,214.5L1587.3,219.9L1591.3,224.9L1595.3,229.4L1599.2,233.5L1603.2,237.0L1607.2,239.9L1611.1,242.3L1615.1,244.0L1619.0,245.1L1623.0,245.5" stroke-width="3.6"/>
</g>
<g stroke="#000" stroke-width="2">
<path d="M1315.7,173.6 V237.0"/>
<path d="M1338.5,165.0 V240.6"/>
<path d="M1360.8,170.0 V224.7"/>
<path d="M1408.4,168.7 V228.0"/>
<path d="M1429.3,165.0 V243.0"/>
<path d="M1449.6,173.6 V237.0"/>
<path d="M1497.7,181.0 V233.0"/>
<path d="M1520.0,167.7 V241.6"/>
<path d="M1543.8,170.0 V232.0"/>
</g>
<g fill="none" stroke="#9a9a9a" stroke-width="4" stroke-linecap="round">
<path d="M1098.0,504 C1090.0,515 1088.0,525 1090.0,540 C1093.0,560 1092.5,570 1092.5,603"/>
<path d="M1105.0,504 C1102.0,515 1100.0,525 1105.0,535 C1113.0,548 1116.0,548 1116.0,565 L1116.0,603"/>
<path d="M1087.5,609 L1087.5,655 C1088.0,670 1099.0,676 1102.0,688 C1103.0,697 1101.0,702 1098.5,709"/>
<path d="M1110.0,609 L1111.0,655 C1112.0,670 1115.0,680 1114.0,690 C1113.0,698 1111.0,702 1108.5,709"/>
<path d="M1142.3,504 C1134.3,515 1132.3,525 1134.3,540 C1137.3,560 1136.8,570 1136.8,603"/>
<path d="M1149.3,504 C1146.3,515 1144.3,525 1149.3,535 C1157.3,548 1160.3,548 1160.3,565 L1160.3,603"/>
<path d="M1131.8,609 L1131.8,655 C1132.3,670 1143.3,676 1146.3,688 C1147.3,697 1145.3,702 1142.8,709"/>
<path d="M1154.3,609 L1155.3,655 C1156.3,670 1159.3,680 1158.3,690 C1157.3,698 1155.3,702 1152.8,709"/>
<path d="M1186.6,504 C1178.6,515 1176.6,525 1178.6,540 C1181.6,560 1181.1,570 1181.1,603"/>
<path d="M1193.6,504 C1190.6,515 1188.6,525 1193.6,535 C1201.6,548 1204.6,548 1204.6,565 L1204.6,603"/>
<path d="M1176.1,609 L1176.1,655 C1176.6,670 1187.6,676 1190.6,688 C1191.6,697 1189.6,702 1187.1,709"/>
<path d="M1198.6,609 L1199.6,655 C1200.6,670 1203.6,680 1202.6,690 C1201.6,698 1199.6,702 1197.1,709"/>
<path d="M1230.9,504 C1222.9,515 1220.9,525 1222.9,540 C1225.9,560 1225.4,570 1225.4,603"/>
<path d="M1237.9,504 C1234.9,515 1232.9,525 1237.9,535 C1245.9,548 1248.9,548 1248.9,565 L1248.9,603"/>
<path d="M1220.4,609 L1220.4,655 C1220.9,670 1231.9,676 1234.9,688 C1235.9,697 1233.9,702 1231.4,709"/>
<path d="M1242.9,609 L1243.9,655 C1244.9,670 1247.9,680 1246.9,690 C1245.9,698 1243.9,702 1241.4,709"/>
<path d="M1275.2,504 C1267.2,515 1265.2,525 1267.2,540 C1270.2,560 1269.7,570 1269.7,603"/>
<path d="M1282.2,504 C1279.2,515 1277.2,525 1282.2,535 C1290.2,548 1293.2,548 1293.2,565 L1293.2,603"/>
<path d="M1264.7,609 L1264.7,655 C1265.2,670 1276.2,676 1279.2,688 C1280.2,697 1278.2,702 1275.7,709"/>
<path d="M1287.2,609 L1288.2,655 C1289.2,670 1292.2,680 1291.2,690 C1290.2,698 1288.2,702 1285.7,709"/>
<path d="M1319.5,504 C1311.5,515 1309.5,525 1311.5,540 C1314.5,560 1314.0,570 1314.0,603"/>
<path d="M1326.5,504 C1323.5,515 1321.5,525 1326.5,535 C1334.5,548 1337.5,548 1337.5,565 L1337.5,603"/>
<path d="M1309.0,609 L1309.0,655 C1309.5,670 1320.5,676 1323.5,688 C1324.5,697 1322.5,702 1320.0,709"/>
<path d="M1331.5,609 L1332.5,655 C1333.5,670 1336.5,680 1335.5,690 C1334.5,698 1332.5,702 1330.0,709"/>
<path d="M1363.8,504 C1355.8,515 1353.8,525 1355.8,540 C1358.8,560 1358.3,570 1358.3,603"/>
<path d="M1370.8,504 C1367.8,515 1365.8,525 1370.8,535 C1378.8,548 1381.8,548 1381.8,565 L1381.8,603"/>
<path d="M1353.3,609 L1353.3,655 C1353.8,670 1364.8,676 1367.8,688 C1368.8,697 1366.8,702 1364.3,709"/>
<path d="M1375.8,609 L1376.8,655 C1377.8,670 1380.8,680 1379.8,690 C1378.8,698 1376.8,702 1374.3,709"/>
<path d="M1408.1,504 C1400.1,515 1398.1,525 1400.1,540 C1403.1,560 1402.6,570 1402.6,603"/>
<path d="M1415.1,504 C1412.1,515 1410.1,525 1415.1,535 C1423.1,548 1426.1,548 1426.1,565 L1426.1,603"/>
<path d="M1397.6,609 L1397.6,655 C1398.1,670 1409.1,676 1412.1,688 C1413.1,697 1411.1,702 1408.6,709"/>
<path d="M1420.1,609 L1421.1,655 C1422.1,670 1425.1,680 1424.1,690 C1423.1,698 1421.1,702 1418.6,709"/>
<path d="M1452.4,504 C1444.4,515 1442.4,525 1444.4,540 C1447.4,560 1446.9,570 1446.9,603"/>
<path d="M1459.4,504 C1456.4,515 1454.4,525 1459.4,535 C1467.4,548 1470.4,548 1470.4,565 L1470.4,603"/>
<path d="M1441.9,609 L1441.9,655 C1442.4,670 1453.4,676 1456.4,688 C1457.4,697 1455.4,702 1452.9,709"/>
<path d="M1464.4,609 L1465.4,655 C1466.4,670 1469.4,680 1468.4,690 C1467.4,698 1465.4,702 1462.9,709"/>
<path d="M1496.7,504 C1488.7,515 1486.7,525 1488.7,540 C1491.7,560 1491.2,570 1491.2,603"/>
<path d="M1503.7,504 C1500.7,515 1498.7,525 1503.7,535 C1511.7,548 1514.7,548 1514.7,565 L1514.7,603"/>
<path d="M1486.2,609 L1486.2,655 C1486.7,670 1497.7,676 1500.7,688 C1501.7,697 1499.7,702 1497.2,709"/>
<path d="M1508.7,609 L1509.7,655 C1510.7,670 1513.7,680 1512.7,690 C1511.7,698 1509.7,702 1507.2,709"/>
<path d="M1541.0,504 C1533.0,515 1531.0,525 1533.0,540 C1536.0,560 1535.5,570 1535.5,603"/>
<path d="M1548.0,504 C1545.0,515 1543.0,525 1548.0,535 C1556.0,548 1559.0,548 1559.0,565 L1559.0,603"/>
<path d="M1530.5,609 L1530.5,655 C1531.0,670 1542.0,676 1545.0,688 C1546.0,697 1544.0,702 1541.5,709"/>
<path d="M1553.0,609 L1554.0,655 C1555.0,670 1558.0,680 1557.0,690 C1556.0,698 1554.0,702 1551.5,709"/>
<path d="M1585.3,504 C1577.3,515 1575.3,525 1577.3,540 C1580.3,560 1579.8,570 1579.8,603"/>
<path d="M1592.3,504 C1589.3,515 1587.3,525 1592.3,535 C1600.3,548 1603.3,548 1603.3,565 L1603.3,603"/>
<path d="M1574.8,609 L1574.8,655 C1575.3,670 1586.3,676 1589.3,688 C1590.3,697 1588.3,702 1585.8,709"/>
<path d="M1597.3,609 L1598.3,655 C1599.3,670 1602.3,680 1601.3,690 C1600.3,698 1598.3,702 1595.8,709"/>
<path d="M1629.6,504 C1621.6,515 1619.6,525 1621.6,540 C1624.6,560 1624.1,570 1624.1,603"/>
<path d="M1636.6,504 C1633.6,515 1631.6,525 1636.6,535 C1644.6,548 1647.6,548 1647.6,565 L1647.6,603"/>
<path d="M1619.1,609 L1619.1,655 C1619.6,670 1630.6,676 1633.6,688 C1634.6,697 1632.6,702 1630.1,709"/>
<path d="M1641.6,609 L1642.6,655 C1643.6,670 1646.6,680 1645.6,690 C1644.6,698 1642.6,702 1640.1,709"/>
<path d="M1673.9,504 C1665.9,515 1663.9,525 1665.9,540 C1668.9,560 1668.4,570 1668.4,603"/>
<path d="M1680.9,504 C1677.9,515 1675.9,525 1680.9,535 C1688.9,548 1691.9,548 1691.9,565 L1691.9,603"/>
<path d="M1663.4,609 L1663.4,655 C1663.9,670 1674.9,676 1677.9,688 C1678.9,697 1676.9,702 1674.4,709"/>
<path d="M1685.9,609 L1686.9,655 C1687.9,670 1690.9,680 1689.9,690 C1688.9,698 1686.9,702 1684.4,709"/>
</g>
<circle cx="1101.0" cy="482" r="21.8" fill="url(#gs)"/><circle cx="1101.0" cy="730" r="21.8" fill="url(#gs)"/>
<circle cx="1145.3" cy="482" r="21.8" fill="url(#gs)"/><circle cx="1145.3" cy="730" r="21.8" fill="url(#gs)"/>
<circle cx="1189.6" cy="482" r="21.8" fill="url(#gs)"/><circle cx="1189.6" cy="730" r="21.8" fill="url(#gs)"/>
<circle cx="1233.9" cy="482" r="21.8" fill="url(#gs)"/><circle cx="1233.9" cy="730" r="21.8" fill="url(#gs)"/>
<circle cx="1278.2" cy="482" r="21.8" fill="url(#gs)"/><circle cx="1278.2" cy="730" r="21.8" fill="url(#gs)"/>
<circle cx="1322.5" cy="482" r="21.8" fill="url(#gs)"/><circle cx="1322.5" cy="730" r="21.8" fill="url(#gs)"/>
<circle cx="1366.8" cy="482" r="21.8" fill="url(#gs)"/><circle cx="1366.8" cy="730" r="21.8" fill="url(#gs)"/>
<circle cx="1411.1" cy="482" r="21.8" fill="url(#gs)"/><circle cx="1411.1" cy="730" r="21.8" fill="url(#gs)"/>
<circle cx="1455.4" cy="482" r="21.8" fill="url(#gs)"/><circle cx="1455.4" cy="730" r="21.8" fill="url(#gs)"/>
<circle cx="1499.7" cy="482" r="21.8" fill="url(#gs)"/><circle cx="1499.7" cy="730" r="21.8" fill="url(#gs)"/>
<circle cx="1544.0" cy="482" r="21.8" fill="url(#gs)"/><circle cx="1544.0" cy="730" r="21.8" fill="url(#gs)"/>
<circle cx="1588.3" cy="482" r="21.8" fill="url(#gs)"/><circle cx="1588.3" cy="730" r="21.8" fill="url(#gs)"/>
<circle cx="1632.6" cy="482" r="21.8" fill="url(#gs)"/><circle cx="1632.6" cy="730" r="21.8" fill="url(#gs)"/>
<circle cx="1676.9" cy="482" r="21.8" fill="url(#gs)"/><circle cx="1676.9" cy="730" r="21.8" fill="url(#gs)"/>
<path d="M1763.4,290.2C1766.9,293.9 1777.3,304.9 1784.2,312.4C1791.0,320.0 1797.9,327.7 1804.6,335.6C1811.3,343.5 1817.9,351.5 1824.4,359.7C1830.9,367.9 1837.3,376.3 1843.6,384.8C1849.8,393.3 1855.9,401.9 1861.9,410.7C1867.8,419.4 1873.6,428.4 1879.2,437.4C1884.7,446.4 1890.2,455.6 1895.4,464.9C1900.6,474.2 1905.6,483.6 1910.4,493.1C1915.1,502.7 1919.7,512.3 1924.1,522.0C1928.4,531.7 1932.5,541.6 1936.4,551.5C1940.3,561.4 1943.9,571.4 1947.3,581.4C1950.7,591.5 1953.8,601.6 1956.7,611.8C1959.6,622.0 1962.2,632.3 1964.5,642.6C1966.9,652.8 1969.0,663.2 1970.8,673.6C1972.6,684.0 1974.2,694.4 1975.4,704.8C1976.7,715.2 1977.7,725.7 1978.5,736.2C1979.2,746.6 1979.7,757.1 1979.9,767.6C1980.1,778.0 1980.0,788.5 1979.6,798.9C1979.3,809.4 1978.6,819.8 1977.7,830.2C1976.8,840.6 1975.7,850.9 1974.2,861.3C1972.8,871.6 1971.1,881.9 1969.1,892.1C1967.2,902.3 1964.9,912.5 1962.5,922.6C1960.0,932.7 1957.2,942.8 1954.2,952.7C1951.2,962.7 1948.0,972.6 1944.5,982.4C1941.0,992.2 1937.3,1002.0 1933.3,1011.6C1929.3,1021.2 1925.1,1030.8 1920.7,1040.2C1916.3,1049.7 1911.6,1059.0 1906.7,1068.3C1901.8,1077.5 1896.7,1086.7 1891.4,1095.7C1886.1,1104.7 1880.6,1113.6 1874.9,1122.4C1869.1,1131.2 1863.2,1139.8 1857.1,1148.4C1851.0,1156.9 1844.7,1165.3 1838.2,1173.6C1831.7,1181.9 1825.0,1190.0 1818.2,1198.1C1811.3,1206.1 1804.3,1214.0 1797.2,1221.7C1790.0,1229.5 1782.7,1237.1 1775.2,1244.5C1767.7,1252.0 1760.1,1259.3 1752.3,1266.5C1744.6,1273.7 1736.7,1280.7 1728.6,1287.6C1720.6,1294.5 1712.4,1301.3 1704.2,1307.9C1695.9,1314.5 1687.5,1321.0 1679.0,1327.3C1670.5,1333.6 1661.9,1339.8 1653.2,1345.9C1644.5,1351.9 1635.7,1357.8 1626.8,1363.5C1617.9,1369.3 1608.9,1374.9 1599.8,1380.3C1590.8,1385.8 1581.6,1391.1 1572.4,1396.3C1563.2,1401.4 1553.9,1406.5 1544.6,1411.3C1535.2,1416.2 1525.8,1421.0 1516.4,1425.6C1506.9,1430.2 1497.4,1434.6 1487.8,1439.0C1478.2,1443.3 1468.6,1447.5 1458.9,1451.5C1449.2,1455.5 1439.5,1459.4 1429.8,1463.2C1420.0,1467.0 1410.2,1470.6 1400.4,1474.1C1390.5,1477.5 1380.6,1480.9 1370.7,1484.1C1360.8,1487.3 1350.9,1490.3 1340.9,1493.2C1330.9,1496.2 1320.9,1498.9 1310.9,1501.6C1300.8,1504.2 1290.8,1506.7 1280.7,1509.0C1270.6,1511.3 1260.4,1513.5 1250.2,1515.6C1240.1,1517.6 1229.8,1519.5 1219.6,1521.2C1209.3,1522.9 1199.0,1524.5 1188.7,1525.9C1178.4,1527.3 1168.0,1528.5 1157.5,1529.6C1147.1,1530.6 1136.6,1531.5 1126.1,1532.2C1115.5,1532.9 1104.9,1533.4 1094.2,1533.7C1083.6,1534.0 1067.4,1533.9 1062.0,1534.0" fill="none" stroke="#231815" stroke-width="3.3"/>
<path d="M1041.8,1534.0 L1067.3,1520.0 Q1063.2,1527.0 1060.2,1534.0 Q1063.2,1541.0 1067.3,1548.0 Z" fill="#231815"/>
<path d="M756.4,1428.0C753.2,1427.9 743.6,1428.0 737.2,1427.7C730.9,1427.3 724.5,1426.8 718.2,1426.2C711.9,1425.5 705.6,1424.6 699.4,1423.6C693.2,1422.6 686.9,1421.4 680.8,1420.0C674.6,1418.7 668.5,1417.1 662.4,1415.5C656.4,1413.8 650.3,1412.0 644.4,1410.0C638.4,1408.0 632.4,1405.9 626.6,1403.6C620.7,1401.4 614.9,1399.0 609.1,1396.5C603.4,1393.9 597.6,1391.3 592.0,1388.5C586.3,1385.7 580.8,1382.8 575.2,1379.8C569.7,1376.8 564.2,1373.7 558.8,1370.4C553.4,1367.2 548.1,1363.8 542.8,1360.4C537.6,1356.9 532.3,1353.4 527.2,1349.7C522.1,1346.1 517.0,1342.4 512.0,1338.5C507.0,1334.7 502.0,1330.8 497.2,1326.7C492.3,1322.7 487.5,1318.6 482.8,1314.5C478.0,1310.3 473.4,1306.0 468.8,1301.7C464.2,1297.4 459.7,1293.0 455.2,1288.5C450.7,1284.0 446.4,1279.5 442.0,1274.9C437.7,1270.3 433.5,1265.6 429.3,1260.8C425.1,1256.1 421.0,1251.3 417.0,1246.5C412.9,1241.6 408.9,1236.7 405.0,1231.7C401.1,1226.8 397.3,1221.7 393.5,1216.7C389.7,1211.6 386.0,1206.5 382.4,1201.3C378.7,1196.2 375.2,1191.0 371.6,1185.7C368.1,1180.5 364.7,1175.2 361.3,1169.8C357.9,1164.5 354.6,1159.1 351.3,1153.7C348.1,1148.3 344.9,1142.8 341.7,1137.4C338.6,1131.9 335.5,1126.4 332.5,1120.8C329.5,1115.3 326.5,1109.7 323.6,1104.1C320.7,1098.5 317.9,1092.8 315.1,1087.2C312.3,1081.5 309.5,1075.8 306.9,1070.1C304.2,1064.4 301.6,1058.6 299.0,1052.9C296.4,1047.1 293.9,1041.3 291.4,1035.5C289.0,1029.7 286.6,1023.9 284.2,1018.0C281.8,1012.2 279.5,1006.3 277.3,1000.4C275.0,994.5 272.8,988.6 270.6,982.7C268.5,976.7 266.3,970.8 264.3,964.8C262.2,958.9 260.2,952.9 258.2,946.9C256.2,940.9 254.3,934.9 252.4,928.9C250.6,922.9 248.7,916.8 246.9,910.8C245.1,904.7 243.4,898.7 241.7,892.6C240.0,886.5 238.3,880.5 236.7,874.4C235.1,868.3 233.6,862.2 232.0,856.0C230.5,849.9 229.0,843.8 227.6,837.7C226.2,831.5 224.8,825.4 223.5,819.2C222.1,813.1 220.8,806.9 219.6,800.7C218.4,794.5 217.2,788.3 216.0,782.2C214.9,776.0 213.8,769.8 212.7,763.5C211.7,757.3 210.7,751.1 209.7,744.9C208.8,738.7 207.9,732.4 207.0,726.2C206.2,719.9 205.4,713.7 204.6,707.4C203.9,701.2 203.2,694.9 202.6,688.6C202.0,682.4 201.4,676.1 200.9,669.8C200.4,663.5 200.0,657.2 199.6,650.9C199.3,644.6 198.9,638.3 198.7,632.0C198.5,625.7 198.3,619.4 198.2,613.0C198.1,606.7 198.1,600.4 198.2,594.0C198.2,587.7 198.5,578.2 198.6,575.0" fill="none" stroke="#231815" stroke-width="3.1"/>
<path d="M198.4,554.6 L213.4,580.6 Q205.9,576.5 198.4,573.3 Q190.9,576.5 183.4,580.6 Z" fill="#231815"/>
<rect x="2052" y="1127" width="2" height="3" fill="#333"/>
<text x="371.0" y="780.0" font-size="59.0" font-weight="bold" text-anchor="start" textLength="242.0" lengthAdjust="spacing">Lysosome</text>
<text x="1331.5" y="135.0" font-size="50.0" font-weight="bold" text-anchor="start" textLength="168.6" lengthAdjust="spacing">LAMP2</text>
<text x="1980.3" y="884.0" font-size="50.0" font-weight="normal" text-anchor="start" textLength="140.0" lengthAdjust="spacing">Mutate</text>
<text x="759.0" y="1307.7" font-size="52.0" font-weight="bold" text-anchor="start" textLength="218.0" lengthAdjust="spacing">Lysosome</text>
<text x="1067.8" y="1524.7" font-size="52.0" font-weight="normal" text-anchor="start" transform="matrix(1 0 0 .78 0 332.75)">-</text>
<text x="1012.9" y="1705.5" font-size="52.0" font-weight="normal" text-anchor="start" transform="matrix(1 0 0 .78 0 372.53)">-</text>
<text x="892.2" y="1579.0" font-size="41.0" font-weight="bold" text-anchor="start" textLength="126.5" lengthAdjust="spacing">ATG14</text>
<text x="812.8" y="1696.0" font-size="41.0" font-weight="bold" text-anchor="start" textLength="138.0" lengthAdjust="spacing">VAMP8</text>
<text x="323.8" y="1837.1" font-size="50.0" font-weight="bold" text-anchor="start" textLength="363.0" lengthAdjust="spacing">Autophagosome</text>
<text x="1152.9" y="1829.0" font-size="50.0" font-weight="bold" text-anchor="start" textLength="451.4" lengthAdjust="spacing">Autophagolysosome</text>
<text x="1113.3" y="1981.0" font-size="46.0" font-weight="normal" text-anchor="start" textLength="487.0" lengthAdjust="spacing">Accumulation of glycogen</text>
<text x="754.2" y="2197.5" font-size="60.0" font-weight="bold" text-anchor="start" textLength="401.3" lengthAdjust="spacing">Cardiomyocyte</text>
<text x="2195.0" y="1615.0" font-size="59.0" font-weight="normal" text-anchor="start" textLength="132.5" lengthAdjust="spacing">HCM</text>
<text x="2073.0" y="2029.0" font-size="59.0" font-weight="normal" text-anchor="start" textLength="440.0" lengthAdjust="spacing">Myocardial energy</text>
<text x="2055.0" y="2099.0" font-size="59.0" font-weight="normal" text-anchor="start" textLength="477.0" lengthAdjust="spacing">metabolism disorder</text>
</svg>
</body></html>
